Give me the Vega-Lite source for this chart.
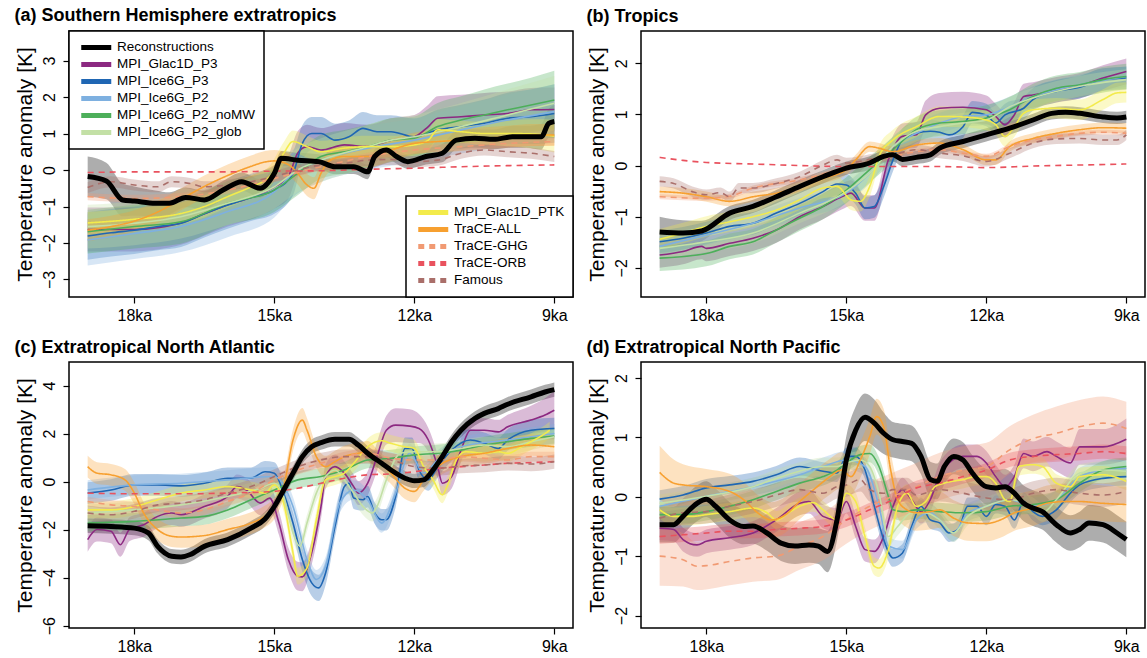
{
"$schema": "https://vega.github.io/schema/vega-lite/v6.json",
"padding": {"left": 13, "top": 6, "right": 1, "bottom": 2},
"config": {
  "font": "Liberation Sans",
  "view": {"stroke": "black", "strokeWidth": 1.5},
  "axis": {"domain": false, "grid": false, "tickColor": "black", "tickSize": 6, "tickWidth": 1.2, "labelColor": "black", "labelFontSize": 16, "titleFontSize": 21, "titleFontWeight": "normal", "titleColor": "black", "labelFont": "Liberation Sans", "titleFont": "Liberation Sans"},
  "axisX": {"labelPadding": 4},
  "axisY": {"labelAngle": 270, "labelAlign": "center", "labelBaseline": "bottom", "labelPadding": 5.5, "titlePadding": 6},
  "title": {"anchor": "start", "fontSize": 18, "fontWeight": "bold", "color": "black", "offset": 5, "font": "Liberation Sans"},
  "legend": {"strokeColor": "black", "strokeWidth": 1.5, "fillColor": "white", "padding": 8, "labelFontSize": 13.5, "labelColor": "black", "labelFont": "Liberation Sans", "rowPadding": 0, "clipHeight": 16.75, "labelLimit": 300}
},
"spacing": {"row": 14, "column": 10},
"columns": 2,
"resolve": {"legend": {"color": "independent", "stroke": "independent", "strokeDash": "independent", "fill": "independent", "opacity": "independent"}},
"datasets": {"d": [
{"p":"a","s":"REC","t":19,"y":-0.18,"e":0.55},{"p":"a","s":"REC","t":18.6,"y":-0.3,"e":0.5},{"p":"a","s":"REC","t":18.25,"y":-0.82,"e":0.45},{"p":"a","s":"REC","t":18,"y":-0.85,"e":0.4},{"p":"a","s":"REC","t":17.55,"y":-0.91,"e":0.35},{"p":"a","s":"REC","t":17.25,"y":-0.91,"e":0.3},{"p":"a","s":"REC","t":16.9,"y":-0.75,"e":0.27},{"p":"a","s":"REC","t":16.5,"y":-0.82,"e":0.25},{"p":"a","s":"REC","t":16.1,"y":-0.55,"e":0.25},{"p":"a","s":"REC","t":15.7,"y":-0.32,"e":0.25},{"p":"a","s":"REC","t":15.3,"y":-0.5,"e":0.25},{"p":"a","s":"REC","t":15,"y":-0.09,"e":0.22},{"p":"a","s":"REC","t":14.85,"y":0.32,"e":0.2},{"p":"a","s":"REC","t":14.5,"y":0.27,"e":0.2},{"p":"a","s":"REC","t":14.05,"y":0.23,"e":0.2},{"p":"a","s":"REC","t":13.7,"y":0.09,"e":0.2},{"p":"a","s":"REC","t":13.3,"y":0.09,"e":0.2},{"p":"a","s":"REC","t":13,"y":-0.05,"e":0.2},{"p":"a","s":"REC","t":12.85,"y":0.37,"e":0.2},{"p":"a","s":"REC","t":12.6,"y":0.55,"e":0.2},{"p":"a","s":"REC","t":12.38,"y":0.37,"e":0.2},{"p":"a","s":"REC","t":12.14,"y":0.23,"e":0.2},{"p":"a","s":"REC","t":11.75,"y":0.37,"e":0.22},{"p":"a","s":"REC","t":11.4,"y":0.46,"e":0.25},{"p":"a","s":"REC","t":11.1,"y":0.82,"e":0.25},{"p":"a","s":"REC","t":10.7,"y":0.87,"e":0.25},{"p":"a","s":"REC","t":10.3,"y":0.84,"e":0.27},{"p":"a","s":"REC","t":9.9,"y":0.91,"e":0.3},{"p":"a","s":"REC","t":9.6,"y":0.91,"e":0.3},{"p":"a","s":"REC","t":9.28,"y":0.91,"e":0.35},{"p":"a","s":"REC","t":9.12,"y":1.28,"e":0.4},{"p":"a","s":"REC","t":9,"y":1.33,"e":0.45},
{"p":"a","s":"G3","t":19,"y":-1.63,"e":0.6},{"p":"a","s":"G3","t":18.5,"y":-1.63,"e":0.6},{"p":"a","s":"G3","t":18,"y":-1.63,"e":0.6},{"p":"a","s":"G3","t":17.5,"y":-1.58,"e":0.6},{"p":"a","s":"G3","t":17,"y":-1.45,"e":0.6},{"p":"a","s":"G3","t":16.5,"y":-1.2,"e":0.6},{"p":"a","s":"G3","t":16,"y":-0.95,"e":0.6},{"p":"a","s":"G3","t":15.5,"y":-0.75,"e":0.6},{"p":"a","s":"G3","t":15,"y":-0.46,"e":0.6},{"p":"a","s":"G3","t":14.7,"y":-0.18,"e":0.6},{"p":"a","s":"G3","t":14.5,"y":0.46,"e":0.6},{"p":"a","s":"G3","t":14.3,"y":0.64,"e":0.6},{"p":"a","s":"G3","t":14,"y":0.55,"e":0.6},{"p":"a","s":"G3","t":13.5,"y":0.69,"e":0.6},{"p":"a","s":"G3","t":13,"y":0.64,"e":0.6},{"p":"a","s":"G3","t":12.5,"y":0.82,"e":0.6},{"p":"a","s":"G3","t":12,"y":0.91,"e":0.6},{"p":"a","s":"G3","t":11.7,"y":1.19,"e":0.6},{"p":"a","s":"G3","t":11.5,"y":1.42,"e":0.6},{"p":"a","s":"G3","t":11,"y":1.46,"e":0.6},{"p":"a","s":"G3","t":10.5,"y":1.51,"e":0.6},{"p":"a","s":"G3","t":10,"y":1.55,"e":0.6},{"p":"a","s":"G3","t":9.5,"y":1.65,"e":0.6},{"p":"a","s":"G3","t":9,"y":1.66,"e":0.6},
{"p":"a","s":"I3","t":19,"y":-1.81,"e":0.65},{"p":"a","s":"I3","t":18.5,"y":-1.72,"e":0.65},{"p":"a","s":"I3","t":18,"y":-1.65,"e":0.65},{"p":"a","s":"I3","t":17.5,"y":-1.55,"e":0.65},{"p":"a","s":"I3","t":17,"y":-1.46,"e":0.65},{"p":"a","s":"I3","t":16.5,"y":-1.2,"e":0.65},{"p":"a","s":"I3","t":16,"y":-0.96,"e":0.65},{"p":"a","s":"I3","t":15.5,"y":-0.75,"e":0.65},{"p":"a","s":"I3","t":15,"y":-0.55,"e":0.65},{"p":"a","s":"I3","t":14.6,"y":-0.09,"e":0.6},{"p":"a","s":"I3","t":14.4,"y":0.73,"e":0.5},{"p":"a","s":"I3","t":14.2,"y":1.0,"e":0.45},{"p":"a","s":"I3","t":14,"y":1.0,"e":0.45},{"p":"a","s":"I3","t":13.7,"y":0.82,"e":0.45},{"p":"a","s":"I3","t":13.4,"y":0.91,"e":0.45},{"p":"a","s":"I3","t":13.1,"y":1.14,"e":0.45},{"p":"a","s":"I3","t":12.8,"y":1.05,"e":0.45},{"p":"a","s":"I3","t":12.5,"y":1.05,"e":0.45},{"p":"a","s":"I3","t":12,"y":0.91,"e":0.5},{"p":"a","s":"I3","t":11.5,"y":1.1,"e":0.55},{"p":"a","s":"I3","t":11,"y":1.19,"e":0.6},{"p":"a","s":"I3","t":10.5,"y":1.28,"e":0.65},{"p":"a","s":"I3","t":10,"y":1.42,"e":0.7},{"p":"a","s":"I3","t":9.5,"y":1.46,"e":0.75},{"p":"a","s":"I3","t":9,"y":1.55,"e":0.8},
{"p":"a","s":"I2","t":19,"y":-1.92,"e":0.7},{"p":"a","s":"I2","t":18,"y":-1.74,"e":0.7},{"p":"a","s":"I2","t":17,"y":-1.55,"e":0.7},{"p":"a","s":"I2","t":16,"y":-1.14,"e":0.7},{"p":"a","s":"I2","t":15,"y":-0.6,"e":0.7},{"p":"a","s":"I2","t":14.6,"y":-0.09,"e":0.65},{"p":"a","s":"I2","t":14,"y":0.27,"e":0.6},{"p":"a","s":"I2","t":13,"y":0.6,"e":0.6},{"p":"a","s":"I2","t":12,"y":0.82,"e":0.6},{"p":"a","s":"I2","t":11,"y":1.1,"e":0.65},{"p":"a","s":"I2","t":10,"y":1.37,"e":0.7},{"p":"a","s":"I2","t":9,"y":1.6,"e":0.75},
{"p":"a","s":"NMW","t":19,"y":-1.69,"e":0.6},{"p":"a","s":"NMW","t":18,"y":-1.55,"e":0.6},{"p":"a","s":"NMW","t":17,"y":-1.42,"e":0.6},{"p":"a","s":"NMW","t":16,"y":-0.91,"e":0.6},{"p":"a","s":"NMW","t":15,"y":-0.55,"e":0.6},{"p":"a","s":"NMW","t":14.5,"y":-0.09,"e":0.6},{"p":"a","s":"NMW","t":14,"y":0.37,"e":0.6},{"p":"a","s":"NMW","t":13.5,"y":0.5,"e":0.6},{"p":"a","s":"NMW","t":13,"y":0.64,"e":0.6},{"p":"a","s":"NMW","t":12.5,"y":0.82,"e":0.6},{"p":"a","s":"NMW","t":12,"y":0.87,"e":0.6},{"p":"a","s":"NMW","t":11.5,"y":1.19,"e":0.65},{"p":"a","s":"NMW","t":11,"y":1.37,"e":0.65},{"p":"a","s":"NMW","t":10.5,"y":1.51,"e":0.7},{"p":"a","s":"NMW","t":10,"y":1.65,"e":0.72},{"p":"a","s":"NMW","t":9.5,"y":1.78,"e":0.75},{"p":"a","s":"NMW","t":9,"y":1.92,"e":0.8},
{"p":"a","s":"GLOB","t":19,"y":-1.55,"e":0.6},{"p":"a","s":"GLOB","t":18,"y":-1.46,"e":0.6},{"p":"a","s":"GLOB","t":17,"y":-1.28,"e":0.6},{"p":"a","s":"GLOB","t":16,"y":-0.91,"e":0.6},{"p":"a","s":"GLOB","t":15,"y":-0.46,"e":0.6},{"p":"a","s":"GLOB","t":14.5,"y":0,"e":0.6},{"p":"a","s":"GLOB","t":14,"y":0.27,"e":0.6},{"p":"a","s":"GLOB","t":13,"y":0.64,"e":0.6},{"p":"a","s":"GLOB","t":12.5,"y":0.82,"e":0.6},{"p":"a","s":"GLOB","t":12,"y":0.91,"e":0.6},{"p":"a","s":"GLOB","t":11,"y":1.19,"e":0.65},{"p":"a","s":"GLOB","t":10,"y":1.51,"e":0.7},{"p":"a","s":"GLOB","t":9,"y":1.83,"e":0.75},
{"p":"a","s":"PTK","t":19,"y":-1.45,"e":0.3},{"p":"a","s":"PTK","t":18,"y":-1.35,"e":0.3},{"p":"a","s":"PTK","t":17,"y":-1.19,"e":0.3},{"p":"a","s":"PTK","t":16.5,"y":-1.0,"e":0.3},{"p":"a","s":"PTK","t":16,"y":-0.73,"e":0.3},{"p":"a","s":"PTK","t":15.5,"y":-0.46,"e":0.3},{"p":"a","s":"PTK","t":15.1,"y":-0.18,"e":0.3},{"p":"a","s":"PTK","t":14.8,"y":0.46,"e":0.3},{"p":"a","s":"PTK","t":14.6,"y":0.78,"e":0.3},{"p":"a","s":"PTK","t":14.3,"y":0.64,"e":0.3},{"p":"a","s":"PTK","t":14,"y":0.5,"e":0.3},{"p":"a","s":"PTK","t":13.5,"y":0.6,"e":0.3},{"p":"a","s":"PTK","t":13,"y":0.64,"e":0.3},{"p":"a","s":"PTK","t":12.5,"y":0.64,"e":0.3},{"p":"a","s":"PTK","t":12,"y":0.69,"e":0.3},{"p":"a","s":"PTK","t":11.7,"y":0.82,"e":0.3},{"p":"a","s":"PTK","t":11.5,"y":1.1,"e":0.3},{"p":"a","s":"PTK","t":11,"y":1.05,"e":0.3},{"p":"a","s":"PTK","t":10.5,"y":1.0,"e":0.32},{"p":"a","s":"PTK","t":10,"y":1.0,"e":0.35},{"p":"a","s":"PTK","t":9.5,"y":0.99,"e":0.4},{"p":"a","s":"PTK","t":9,"y":0.93,"e":0.45},
{"p":"a","s":"TALL","t":19,"y":-1.65,"e":0.3},{"p":"a","s":"TALL","t":18.5,"y":-1.55,"e":0.3},{"p":"a","s":"TALL","t":18,"y":-1.4,"e":0.3},{"p":"a","s":"TALL","t":17.5,"y":-1.15,"e":0.3},{"p":"a","s":"TALL","t":17,"y":-0.8,"e":0.3},{"p":"a","s":"TALL","t":16.5,"y":-0.45,"e":0.3},{"p":"a","s":"TALL","t":16,"y":-0.15,"e":0.3},{"p":"a","s":"TALL","t":15.5,"y":0.1,"e":0.3},{"p":"a","s":"TALL","t":15.2,"y":0.22,"e":0.3},{"p":"a","s":"TALL","t":15,"y":0.25,"e":0.3},{"p":"a","s":"TALL","t":14.7,"y":0.15,"e":0.3},{"p":"a","s":"TALL","t":14.5,"y":-0.09,"e":0.3},{"p":"a","s":"TALL","t":14.3,"y":-0.41,"e":0.3},{"p":"a","s":"TALL","t":14.15,"y":-0.5,"e":0.3},{"p":"a","s":"TALL","t":14,"y":-0.09,"e":0.3},{"p":"a","s":"TALL","t":13.8,"y":0.27,"e":0.3},{"p":"a","s":"TALL","t":13.5,"y":0.37,"e":0.3},{"p":"a","s":"TALL","t":13,"y":0.37,"e":0.3},{"p":"a","s":"TALL","t":12.5,"y":0.55,"e":0.3},{"p":"a","s":"TALL","t":12,"y":0.73,"e":0.3},{"p":"a","s":"TALL","t":11.5,"y":0.78,"e":0.3},{"p":"a","s":"TALL","t":11,"y":0.82,"e":0.3},{"p":"a","s":"TALL","t":10.5,"y":0.87,"e":0.3},{"p":"a","s":"TALL","t":10,"y":0.91,"e":0.3},{"p":"a","s":"TALL","t":9.5,"y":0.96,"e":0.3},{"p":"a","s":"TALL","t":9,"y":0.96,"e":0.3},
{"p":"a","s":"TGHG","t":19,"y":-0.73,"e":0.1},{"p":"a","s":"TGHG","t":18,"y":-0.78,"e":0.1},{"p":"a","s":"TGHG","t":17,"y":-0.73,"e":0.1},{"p":"a","s":"TGHG","t":16,"y":-0.55,"e":0.1},{"p":"a","s":"TGHG","t":15,"y":-0.23,"e":0.1},{"p":"a","s":"TGHG","t":14,"y":0.09,"e":0.1},{"p":"a","s":"TGHG","t":13,"y":0.37,"e":0.1},{"p":"a","s":"TGHG","t":12,"y":0.55,"e":0.1},{"p":"a","s":"TGHG","t":11,"y":0.64,"e":0.1},{"p":"a","s":"TGHG","t":10,"y":0.73,"e":0.1},{"p":"a","s":"TGHG","t":9,"y":0.78,"e":0.1},
{"p":"a","s":"TORB","t":19,"y":-0.07},{"p":"a","s":"TORB","t":18,"y":-0.05},{"p":"a","s":"TORB","t":17,"y":-0.05},{"p":"a","s":"TORB","t":16,"y":-0.05},{"p":"a","s":"TORB","t":15,"y":-0.03},{"p":"a","s":"TORB","t":14,"y":-0.02},{"p":"a","s":"TORB","t":13,"y":0.02},{"p":"a","s":"TORB","t":12,"y":0.05},{"p":"a","s":"TORB","t":11,"y":0.09},{"p":"a","s":"TORB","t":10,"y":0.12},{"p":"a","s":"TORB","t":9,"y":0.14},
{"p":"a","s":"FAM","t":19,"y":-0.48,"e":0.15},{"p":"a","s":"FAM","t":18.5,"y":-0.32,"e":0.15},{"p":"a","s":"FAM","t":18,"y":-0.41,"e":0.15},{"p":"a","s":"FAM","t":17.5,"y":-0.46,"e":0.15},{"p":"a","s":"FAM","t":17.2,"y":-0.32,"e":0.15},{"p":"a","s":"FAM","t":16.8,"y":-0.37,"e":0.15},{"p":"a","s":"FAM","t":16.5,"y":-0.46,"e":0.15},{"p":"a","s":"FAM","t":16,"y":-0.41,"e":0.15},{"p":"a","s":"FAM","t":15.5,"y":-0.32,"e":0.15},{"p":"a","s":"FAM","t":15,"y":-0.18,"e":0.15},{"p":"a","s":"FAM","t":14.5,"y":0,"e":0.15},{"p":"a","s":"FAM","t":14,"y":0.14,"e":0.15},{"p":"a","s":"FAM","t":13.5,"y":0.18,"e":0.15},{"p":"a","s":"FAM","t":13,"y":0.27,"e":0.15},{"p":"a","s":"FAM","t":12.5,"y":0.29,"e":0.15},{"p":"a","s":"FAM","t":12,"y":0.23,"e":0.15},{"p":"a","s":"FAM","t":11.5,"y":0.27,"e":0.15},{"p":"a","s":"FAM","t":11,"y":0.46,"e":0.15},{"p":"a","s":"FAM","t":10.5,"y":0.55,"e":0.15},{"p":"a","s":"FAM","t":10,"y":0.5,"e":0.15},{"p":"a","s":"FAM","t":9.5,"y":0.46,"e":0.15},{"p":"a","s":"FAM","t":9,"y":0.37,"e":0.15},

{"p":"b","s":"REC","t":19,"y":-1.3,"e":0.3},{"p":"b","s":"REC","t":18.5,"y":-1.32,"e":0.25},{"p":"b","s":"REC","t":18.1,"y":-1.28,"e":0.2},{"p":"b","s":"REC","t":17.5,"y":-0.93,"e":0.14},{"p":"b","s":"REC","t":17,"y":-0.8,"e":0.13},{"p":"b","s":"REC","t":16.5,"y":-0.61,"e":0.13},{"p":"b","s":"REC","t":16,"y":-0.41,"e":0.13},{"p":"b","s":"REC","t":15.5,"y":-0.22,"e":0.13},{"p":"b","s":"REC","t":15,"y":-0.05,"e":0.13},{"p":"b","s":"REC","t":14.5,"y":0.05,"e":0.13},{"p":"b","s":"REC","t":14.2,"y":0.18,"e":0.13},{"p":"b","s":"REC","t":14,"y":0.21,"e":0.13},{"p":"b","s":"REC","t":13.8,"y":0.12,"e":0.13},{"p":"b","s":"REC","t":13.5,"y":0.16,"e":0.13},{"p":"b","s":"REC","t":13.2,"y":0.21,"e":0.13},{"p":"b","s":"REC","t":13,"y":0.34,"e":0.13},{"p":"b","s":"REC","t":12.5,"y":0.47,"e":0.13},{"p":"b","s":"REC","t":12,"y":0.6,"e":0.13},{"p":"b","s":"REC","t":11.5,"y":0.73,"e":0.13},{"p":"b","s":"REC","t":11,"y":0.89,"e":0.12},{"p":"b","s":"REC","t":10.6,"y":1.02,"e":0.12},{"p":"b","s":"REC","t":10.3,"y":1.04,"e":0.12},{"p":"b","s":"REC","t":10,"y":1.02,"e":0.12},{"p":"b","s":"REC","t":9.5,"y":0.95,"e":0.12},{"p":"b","s":"REC","t":9.2,"y":0.93,"e":0.12},{"p":"b","s":"REC","t":9,"y":0.95,"e":0.12},
{"p":"b","s":"G3","t":19,"y":-1.75,"e":0.25},{"p":"b","s":"G3","t":18.5,"y":-1.68,"e":0.25},{"p":"b","s":"G3","t":18.1,"y":-1.58,"e":0.25},{"p":"b","s":"G3","t":18,"y":-1.62,"e":0.25},{"p":"b","s":"G3","t":17.5,"y":-1.52,"e":0.25},{"p":"b","s":"G3","t":17,"y":-1.42,"e":0.25},{"p":"b","s":"G3","t":16.5,"y":-1.26,"e":0.25},{"p":"b","s":"G3","t":16,"y":-1.0,"e":0.25},{"p":"b","s":"G3","t":15.5,"y":-0.8,"e":0.25},{"p":"b","s":"G3","t":15.1,"y":-0.61,"e":0.25},{"p":"b","s":"G3","t":14.9,"y":-0.54,"e":0.25},{"p":"b","s":"G3","t":14.6,"y":-0.83,"e":0.25},{"p":"b","s":"G3","t":14.4,"y":-0.83,"e":0.25},{"p":"b","s":"G3","t":14.1,"y":0.11,"e":0.25},{"p":"b","s":"G3","t":13.8,"y":0.57,"e":0.25},{"p":"b","s":"G3","t":13.5,"y":0.6,"e":0.25},{"p":"b","s":"G3","t":13.3,"y":0.99,"e":0.28},{"p":"b","s":"G3","t":13,"y":1.12,"e":0.3},{"p":"b","s":"G3","t":12.5,"y":1.14,"e":0.3},{"p":"b","s":"G3","t":12,"y":1.09,"e":0.28},{"p":"b","s":"G3","t":11.8,"y":0.96,"e":0.25},{"p":"b","s":"G3","t":11.6,"y":0.8,"e":0.25},{"p":"b","s":"G3","t":11.4,"y":0.99,"e":0.25},{"p":"b","s":"G3","t":11.2,"y":1.35,"e":0.25},{"p":"b","s":"G3","t":11,"y":1.38,"e":0.25},{"p":"b","s":"G3","t":10.5,"y":1.48,"e":0.25},{"p":"b","s":"G3","t":10,"y":1.56,"e":0.25},{"p":"b","s":"G3","t":9.5,"y":1.71,"e":0.25},{"p":"b","s":"G3","t":9,"y":1.84,"e":0.25},
{"p":"b","s":"I3","t":19,"y":-1.49,"e":0.22},{"p":"b","s":"I3","t":18.5,"y":-1.42,"e":0.22},{"p":"b","s":"I3","t":18,"y":-1.32,"e":0.22},{"p":"b","s":"I3","t":17.5,"y":-1.19,"e":0.22},{"p":"b","s":"I3","t":17,"y":-1.13,"e":0.22},{"p":"b","s":"I3","t":16.5,"y":-0.93,"e":0.22},{"p":"b","s":"I3","t":16,"y":-0.74,"e":0.22},{"p":"b","s":"I3","t":15.5,"y":-0.51,"e":0.22},{"p":"b","s":"I3","t":15.2,"y":-0.36,"e":0.22},{"p":"b","s":"I3","t":15,"y":-0.38,"e":0.22},{"p":"b","s":"I3","t":14.8,"y":-0.54,"e":0.22},{"p":"b","s":"I3","t":14.6,"y":-0.83,"e":0.22},{"p":"b","s":"I3","t":14.4,"y":-0.8,"e":0.22},{"p":"b","s":"I3","t":14.2,"y":-0.41,"e":0.22},{"p":"b","s":"I3","t":14,"y":0.11,"e":0.22},{"p":"b","s":"I3","t":13.8,"y":0.5,"e":0.22},{"p":"b","s":"I3","t":13.5,"y":0.63,"e":0.22},{"p":"b","s":"I3","t":13.2,"y":0.67,"e":0.22},{"p":"b","s":"I3","t":13,"y":0.65,"e":0.22},{"p":"b","s":"I3","t":12.8,"y":0.6,"e":0.22},{"p":"b","s":"I3","t":12.5,"y":0.76,"e":0.22},{"p":"b","s":"I3","t":12.3,"y":1.04,"e":0.22},{"p":"b","s":"I3","t":12,"y":0.99,"e":0.22},{"p":"b","s":"I3","t":11.8,"y":0.83,"e":0.22},{"p":"b","s":"I3","t":11.6,"y":0.99,"e":0.22},{"p":"b","s":"I3","t":11.2,"y":1.12,"e":0.22},{"p":"b","s":"I3","t":11,"y":1.29,"e":0.22},{"p":"b","s":"I3","t":10.5,"y":1.45,"e":0.22},{"p":"b","s":"I3","t":10,"y":1.53,"e":0.22},{"p":"b","s":"I3","t":9.5,"y":1.68,"e":0.22},{"p":"b","s":"I3","t":9,"y":1.71,"e":0.22},
{"p":"b","s":"I2","t":19,"y":-1.58,"e":0.2},{"p":"b","s":"I2","t":18,"y":-1.36,"e":0.2},{"p":"b","s":"I2","t":17,"y":-1.13,"e":0.2},{"p":"b","s":"I2","t":16,"y":-0.83,"e":0.2},{"p":"b","s":"I2","t":15,"y":-0.54,"e":0.2},{"p":"b","s":"I2","t":14.5,"y":-0.15,"e":0.2},{"p":"b","s":"I2","t":14,"y":0.37,"e":0.2},{"p":"b","s":"I2","t":13.5,"y":0.63,"e":0.2},{"p":"b","s":"I2","t":13,"y":0.83,"e":0.2},{"p":"b","s":"I2","t":12.5,"y":0.96,"e":0.2},{"p":"b","s":"I2","t":12,"y":0.99,"e":0.2},{"p":"b","s":"I2","t":11.5,"y":1.15,"e":0.2},{"p":"b","s":"I2","t":11,"y":1.35,"e":0.2},{"p":"b","s":"I2","t":10,"y":1.58,"e":0.2},{"p":"b","s":"I2","t":9,"y":1.74,"e":0.2},
{"p":"b","s":"NMW","t":19,"y":-1.81,"e":0.25},{"p":"b","s":"NMW","t":18,"y":-1.72,"e":0.25},{"p":"b","s":"NMW","t":17.5,"y":-1.58,"e":0.25},{"p":"b","s":"NMW","t":17,"y":-1.49,"e":0.25},{"p":"b","s":"NMW","t":16.5,"y":-1.26,"e":0.25},{"p":"b","s":"NMW","t":16,"y":-1.03,"e":0.25},{"p":"b","s":"NMW","t":15.5,"y":-0.8,"e":0.25},{"p":"b","s":"NMW","t":15,"y":-0.48,"e":0.25},{"p":"b","s":"NMW","t":14.5,"y":-0.08,"e":0.25},{"p":"b","s":"NMW","t":14,"y":0.31,"e":0.25},{"p":"b","s":"NMW","t":13.5,"y":0.7,"e":0.25},{"p":"b","s":"NMW","t":13,"y":0.83,"e":0.25},{"p":"b","s":"NMW","t":12.5,"y":0.86,"e":0.25},{"p":"b","s":"NMW","t":12,"y":0.93,"e":0.25},{"p":"b","s":"NMW","t":11.5,"y":1.09,"e":0.25},{"p":"b","s":"NMW","t":11,"y":1.35,"e":0.25},{"p":"b","s":"NMW","t":10.5,"y":1.51,"e":0.25},{"p":"b","s":"NMW","t":10,"y":1.58,"e":0.25},{"p":"b","s":"NMW","t":9.5,"y":1.68,"e":0.25},{"p":"b","s":"NMW","t":9,"y":1.74,"e":0.25},
{"p":"b","s":"GLOB","t":19,"y":-1.62,"e":0.2},{"p":"b","s":"GLOB","t":18,"y":-1.49,"e":0.2},{"p":"b","s":"GLOB","t":17,"y":-1.32,"e":0.2},{"p":"b","s":"GLOB","t":16,"y":-0.93,"e":0.2},{"p":"b","s":"GLOB","t":15,"y":-0.51,"e":0.2},{"p":"b","s":"GLOB","t":14.5,"y":-0.15,"e":0.2},{"p":"b","s":"GLOB","t":14,"y":0.37,"e":0.2},{"p":"b","s":"GLOB","t":13.5,"y":0.67,"e":0.2},{"p":"b","s":"GLOB","t":13,"y":0.76,"e":0.2},{"p":"b","s":"GLOB","t":12.5,"y":0.83,"e":0.2},{"p":"b","s":"GLOB","t":12,"y":0.89,"e":0.2},{"p":"b","s":"GLOB","t":11.5,"y":1.15,"e":0.2},{"p":"b","s":"GLOB","t":11,"y":1.32,"e":0.2},{"p":"b","s":"GLOB","t":10,"y":1.55,"e":0.2},{"p":"b","s":"GLOB","t":9,"y":1.68,"e":0.2},
{"p":"b","s":"PTK","t":19,"y":-1.44,"e":0.2},{"p":"b","s":"PTK","t":18.5,"y":-1.32,"e":0.2},{"p":"b","s":"PTK","t":18,"y":-1.19,"e":0.2},{"p":"b","s":"PTK","t":17.5,"y":-1.1,"e":0.2},{"p":"b","s":"PTK","t":17,"y":-1.0,"e":0.2},{"p":"b","s":"PTK","t":16.5,"y":-0.87,"e":0.2},{"p":"b","s":"PTK","t":16,"y":-0.67,"e":0.2},{"p":"b","s":"PTK","t":15.5,"y":-0.44,"e":0.2},{"p":"b","s":"PTK","t":15.2,"y":-0.41,"e":0.2},{"p":"b","s":"PTK","t":14.9,"y":-0.67,"e":0.2},{"p":"b","s":"PTK","t":14.7,"y":-0.7,"e":0.2},{"p":"b","s":"PTK","t":14.5,"y":-0.41,"e":0.2},{"p":"b","s":"PTK","t":14.3,"y":0.18,"e":0.2},{"p":"b","s":"PTK","t":14,"y":0.5,"e":0.2},{"p":"b","s":"PTK","t":13.5,"y":0.76,"e":0.2},{"p":"b","s":"PTK","t":13,"y":0.96,"e":0.2},{"p":"b","s":"PTK","t":12.5,"y":0.95,"e":0.2},{"p":"b","s":"PTK","t":12,"y":0.89,"e":0.2},{"p":"b","s":"PTK","t":11.8,"y":0.8,"e":0.2},{"p":"b","s":"PTK","t":11.6,"y":0.57,"e":0.2},{"p":"b","s":"PTK","t":11.4,"y":0.76,"e":0.2},{"p":"b","s":"PTK","t":11.2,"y":1.02,"e":0.2},{"p":"b","s":"PTK","t":11,"y":1.09,"e":0.2},{"p":"b","s":"PTK","t":10.5,"y":1.12,"e":0.2},{"p":"b","s":"PTK","t":10,"y":1.09,"e":0.2},{"p":"b","s":"PTK","t":9.5,"y":1.29,"e":0.2},{"p":"b","s":"PTK","t":9.2,"y":1.42,"e":0.2},{"p":"b","s":"PTK","t":9,"y":1.43,"e":0.2},
{"p":"b","s":"TALL","t":19,"y":-0.51,"e":0.1},{"p":"b","s":"TALL","t":18.5,"y":-0.54,"e":0.1},{"p":"b","s":"TALL","t":18,"y":-0.61,"e":0.1},{"p":"b","s":"TALL","t":17.5,"y":-0.7,"e":0.1},{"p":"b","s":"TALL","t":17,"y":-0.61,"e":0.1},{"p":"b","s":"TALL","t":16.5,"y":-0.54,"e":0.1},{"p":"b","s":"TALL","t":16,"y":-0.41,"e":0.1},{"p":"b","s":"TALL","t":15.5,"y":-0.25,"e":0.1},{"p":"b","s":"TALL","t":15,"y":-0.08,"e":0.1},{"p":"b","s":"TALL","t":14.8,"y":0.11,"e":0.1},{"p":"b","s":"TALL","t":14.5,"y":0.37,"e":0.1},{"p":"b","s":"TALL","t":14.3,"y":0.34,"e":0.1},{"p":"b","s":"TALL","t":14,"y":0.27,"e":0.1},{"p":"b","s":"TALL","t":13.5,"y":0.4,"e":0.1},{"p":"b","s":"TALL","t":13,"y":0.44,"e":0.1},{"p":"b","s":"TALL","t":12.5,"y":0.31,"e":0.1},{"p":"b","s":"TALL","t":12,"y":0.11,"e":0.1},{"p":"b","s":"TALL","t":11.8,"y":0.11,"e":0.1},{"p":"b","s":"TALL","t":11.5,"y":0.37,"e":0.1},{"p":"b","s":"TALL","t":11,"y":0.53,"e":0.1},{"p":"b","s":"TALL","t":10.5,"y":0.63,"e":0.1},{"p":"b","s":"TALL","t":10,"y":0.7,"e":0.1},{"p":"b","s":"TALL","t":9.5,"y":0.74,"e":0.1},{"p":"b","s":"TALL","t":9,"y":0.73,"e":0.1},
{"p":"b","s":"TGHG","t":19,"y":-0.61,"e":0.05},{"p":"b","s":"TGHG","t":18,"y":-0.64,"e":0.05},{"p":"b","s":"TGHG","t":17.5,"y":-0.6,"e":0.05},{"p":"b","s":"TGHG","t":17,"y":-0.44,"e":0.05},{"p":"b","s":"TGHG","t":16,"y":-0.28,"e":0.05},{"p":"b","s":"TGHG","t":15,"y":-0.05,"e":0.05},{"p":"b","s":"TGHG","t":14.5,"y":0.08,"e":0.05},{"p":"b","s":"TGHG","t":14,"y":0.18,"e":0.05},{"p":"b","s":"TGHG","t":13.5,"y":0.27,"e":0.05},{"p":"b","s":"TGHG","t":13,"y":0.31,"e":0.05},{"p":"b","s":"TGHG","t":12.5,"y":0.24,"e":0.05},{"p":"b","s":"TGHG","t":12,"y":0.18,"e":0.05},{"p":"b","s":"TGHG","t":11.5,"y":0.37,"e":0.05},{"p":"b","s":"TGHG","t":11,"y":0.5,"e":0.05},{"p":"b","s":"TGHG","t":10.5,"y":0.57,"e":0.05},{"p":"b","s":"TGHG","t":10,"y":0.63,"e":0.05},{"p":"b","s":"TGHG","t":9.5,"y":0.65,"e":0.05},{"p":"b","s":"TGHG","t":9,"y":0.63,"e":0.05},
{"p":"b","s":"TORB","t":19,"y":0.16},{"p":"b","s":"TORB","t":18.5,"y":0.1},{"p":"b","s":"TORB","t":18,"y":0.06},{"p":"b","s":"TORB","t":17,"y":0.03},{"p":"b","s":"TORB","t":16,"y":0},{"p":"b","s":"TORB","t":15,"y":-0.02},{"p":"b","s":"TORB","t":14,"y":-0.02},{"p":"b","s":"TORB","t":13,"y":-0.02},{"p":"b","s":"TORB","t":12,"y":-0.04},{"p":"b","s":"TORB","t":11,"y":-0.01},{"p":"b","s":"TORB","t":10,"y":0.01},{"p":"b","s":"TORB","t":9,"y":0.03},
{"p":"b","s":"FAM","t":19,"y":-0.31,"e":0.1},{"p":"b","s":"FAM","t":18.7,"y":-0.35,"e":0.1},{"p":"b","s":"FAM","t":18.3,"y":-0.51,"e":0.1},{"p":"b","s":"FAM","t":18,"y":-0.57,"e":0.1},{"p":"b","s":"FAM","t":17.7,"y":-0.53,"e":0.1},{"p":"b","s":"FAM","t":17.5,"y":-0.61,"e":0.1},{"p":"b","s":"FAM","t":17.3,"y":-0.44,"e":0.1},{"p":"b","s":"FAM","t":17,"y":-0.44,"e":0.1},{"p":"b","s":"FAM","t":16.5,"y":-0.35,"e":0.1},{"p":"b","s":"FAM","t":16,"y":-0.22,"e":0.1},{"p":"b","s":"FAM","t":15.5,"y":0.01,"e":0.1},{"p":"b","s":"FAM","t":15.2,"y":0.11,"e":0.1},{"p":"b","s":"FAM","t":15,"y":0.05,"e":0.1},{"p":"b","s":"FAM","t":14.5,"y":0.12,"e":0.1},{"p":"b","s":"FAM","t":14,"y":0.21,"e":0.1},{"p":"b","s":"FAM","t":13.5,"y":0.31,"e":0.1},{"p":"b","s":"FAM","t":13,"y":0.24,"e":0.1},{"p":"b","s":"FAM","t":12.5,"y":0.19,"e":0.1},{"p":"b","s":"FAM","t":12,"y":0.08,"e":0.1},{"p":"b","s":"FAM","t":11.5,"y":0.24,"e":0.1},{"p":"b","s":"FAM","t":11,"y":0.44,"e":0.1},{"p":"b","s":"FAM","t":10.5,"y":0.52,"e":0.1},{"p":"b","s":"FAM","t":10,"y":0.53,"e":0.1},{"p":"b","s":"FAM","t":9.5,"y":0.5,"e":0.1},{"p":"b","s":"FAM","t":9.2,"y":0.5,"e":0.1},{"p":"b","s":"FAM","t":9,"y":0.6,"e":0.1},

{"p":"c","s":"REC","t":19,"y":-1.84,"e":0.3},{"p":"c","s":"REC","t":18.5,"y":-1.87,"e":0.3},{"p":"c","s":"REC","t":18,"y":-1.94,"e":0.3},{"p":"c","s":"REC","t":17.7,"y":-2.14,"e":0.3},{"p":"c","s":"REC","t":17.5,"y":-2.7,"e":0.3},{"p":"c","s":"REC","t":17.2,"y":-3.11,"e":0.3},{"p":"c","s":"REC","t":17,"y":-3.14,"e":0.3},{"p":"c","s":"REC","t":16.8,"y":-3.04,"e":0.3},{"p":"c","s":"REC","t":16.5,"y":-2.7,"e":0.3},{"p":"c","s":"REC","t":16,"y":-2.42,"e":0.3},{"p":"c","s":"REC","t":15.5,"y":-1.94,"e":0.3},{"p":"c","s":"REC","t":15.2,"y":-1.56,"e":0.3},{"p":"c","s":"REC","t":15,"y":-1.04,"e":0.3},{"p":"c","s":"REC","t":14.8,"y":-0.35,"e":0.3},{"p":"c","s":"REC","t":14.6,"y":0.35,"e":0.3},{"p":"c","s":"REC","t":14.4,"y":1.04,"e":0.3},{"p":"c","s":"REC","t":14.2,"y":1.45,"e":0.3},{"p":"c","s":"REC","t":14,"y":1.62,"e":0.3},{"p":"c","s":"REC","t":13.7,"y":1.76,"e":0.3},{"p":"c","s":"REC","t":13.4,"y":1.76,"e":0.3},{"p":"c","s":"REC","t":13.2,"y":1.52,"e":0.3},{"p":"c","s":"REC","t":13,"y":1.18,"e":0.3},{"p":"c","s":"REC","t":12.7,"y":0.76,"e":0.3},{"p":"c","s":"REC","t":12.5,"y":0.48,"e":0.3},{"p":"c","s":"REC","t":12.2,"y":0.14,"e":0.3},{"p":"c","s":"REC","t":12,"y":0.03,"e":0.3},{"p":"c","s":"REC","t":11.8,"y":0.07,"e":0.3},{"p":"c","s":"REC","t":11.6,"y":0.48,"e":0.3},{"p":"c","s":"REC","t":11.4,"y":1.04,"e":0.3},{"p":"c","s":"REC","t":11.2,"y":1.66,"e":0.3},{"p":"c","s":"REC","t":11,"y":2.14,"e":0.3},{"p":"c","s":"REC","t":10.7,"y":2.63,"e":0.3},{"p":"c","s":"REC","t":10.5,"y":2.84,"e":0.3},{"p":"c","s":"REC","t":10.2,"y":3.04,"e":0.3},{"p":"c","s":"REC","t":10,"y":3.22,"e":0.3},{"p":"c","s":"REC","t":9.5,"y":3.53,"e":0.3},{"p":"c","s":"REC","t":9.2,"y":3.73,"e":0.3},{"p":"c","s":"REC","t":9,"y":3.83,"e":0.3},
{"p":"c","s":"G3","t":19,"y":-2.42,"e":0.5},{"p":"c","s":"G3","t":18.8,"y":-2.0,"e":0.5},{"p":"c","s":"G3","t":18.5,"y":-2.07,"e":0.5},{"p":"c","s":"G3","t":18.3,"y":-2.63,"e":0.5},{"p":"c","s":"G3","t":18.1,"y":-1.98,"e":0.5},{"p":"c","s":"G3","t":17.8,"y":-1.8,"e":0.5},{"p":"c","s":"G3","t":17.5,"y":-1.45,"e":0.5},{"p":"c","s":"G3","t":17.2,"y":-1.31,"e":0.5},{"p":"c","s":"G3","t":17,"y":-1.38,"e":0.5},{"p":"c","s":"G3","t":16.5,"y":-1.04,"e":0.5},{"p":"c","s":"G3","t":16,"y":-0.62,"e":0.5},{"p":"c","s":"G3","t":15.8,"y":-0.21,"e":0.5},{"p":"c","s":"G3","t":15.6,"y":-0.35,"e":0.5},{"p":"c","s":"G3","t":15.3,"y":-0.9,"e":0.5},{"p":"c","s":"G3","t":15.1,"y":-0.69,"e":0.5},{"p":"c","s":"G3","t":14.9,"y":-1.73,"e":0.5},{"p":"c","s":"G3","t":14.7,"y":-3.25,"e":0.5},{"p":"c","s":"G3","t":14.5,"y":-3.94,"e":0.6},{"p":"c","s":"G3","t":14.4,"y":-3.97,"e":0.6},{"p":"c","s":"G3","t":14.2,"y":-2.97,"e":0.5},{"p":"c","s":"G3","t":14,"y":-1.04,"e":0.5},{"p":"c","s":"G3","t":13.9,"y":0.21,"e":0.5},{"p":"c","s":"G3","t":13.7,"y":0.62,"e":0.5},{"p":"c","s":"G3","t":13.5,"y":0.35,"e":0.5},{"p":"c","s":"G3","t":13.3,"y":-0.21,"e":0.5},{"p":"c","s":"G3","t":13.2,"y":-0.48,"e":0.5},{"p":"c","s":"G3","t":13,"y":-0.07,"e":0.5},{"p":"c","s":"G3","t":12.8,"y":1.04,"e":0.6},{"p":"c","s":"G3","t":12.6,"y":2.14,"e":0.6},{"p":"c","s":"G3","t":12.4,"y":2.35,"e":0.7},{"p":"c","s":"G3","t":12.1,"y":2.31,"e":0.7},{"p":"c","s":"G3","t":11.9,"y":2.21,"e":0.6},{"p":"c","s":"G3","t":11.7,"y":1.73,"e":0.5},{"p":"c","s":"G3","t":11.5,"y":0.62,"e":0.5},{"p":"c","s":"G3","t":11.4,"y":-0.07,"e":0.5},{"p":"c","s":"G3","t":11.2,"y":0.21,"e":0.5},{"p":"c","s":"G3","t":11,"y":1.31,"e":0.5},{"p":"c","s":"G3","t":10.8,"y":2.14,"e":0.5},{"p":"c","s":"G3","t":10.5,"y":2.14,"e":0.5},{"p":"c","s":"G3","t":10.2,"y":2.07,"e":0.5},{"p":"c","s":"G3","t":10,"y":2.28,"e":0.5},{"p":"c","s":"G3","t":9.5,"y":2.56,"e":0.6},{"p":"c","s":"G3","t":9.2,"y":2.77,"e":0.7},{"p":"c","s":"G3","t":9,"y":2.97,"e":0.8},
{"p":"c","s":"I3","t":19,"y":-0.48,"e":0.45},{"p":"c","s":"I3","t":18.5,"y":-0.35,"e":0.45},{"p":"c","s":"I3","t":18,"y":-0.14,"e":0.45},{"p":"c","s":"I3","t":17.5,"y":-0.14,"e":0.45},{"p":"c","s":"I3","t":17,"y":-0.18,"e":0.45},{"p":"c","s":"I3","t":16.5,"y":-0.07,"e":0.45},{"p":"c","s":"I3","t":16,"y":0.14,"e":0.45},{"p":"c","s":"I3","t":15.5,"y":0.14,"e":0.45},{"p":"c","s":"I3","t":15.2,"y":0.41,"e":0.45},{"p":"c","s":"I3","t":15,"y":0.35,"e":0.45},{"p":"c","s":"I3","t":14.8,"y":-0.48,"e":0.45},{"p":"c","s":"I3","t":14.6,"y":-1.73,"e":0.45},{"p":"c","s":"I3","t":14.4,"y":-3.25,"e":0.5},{"p":"c","s":"I3","t":14.2,"y":-4.22,"e":0.55},{"p":"c","s":"I3","t":14.05,"y":-4.43,"e":0.55},{"p":"c","s":"I3","t":13.9,"y":-3.8,"e":0.5},{"p":"c","s":"I3","t":13.7,"y":-1.87,"e":0.45},{"p":"c","s":"I3","t":13.5,"y":-0.21,"e":0.45},{"p":"c","s":"I3","t":13.4,"y":-0.07,"e":0.45},{"p":"c","s":"I3","t":13.3,"y":-0.69,"e":0.45},{"p":"c","s":"I3","t":13.1,"y":-0.76,"e":0.45},{"p":"c","s":"I3","t":13,"y":-0.62,"e":0.45},{"p":"c","s":"I3","t":12.85,"y":-1.31,"e":0.45},{"p":"c","s":"I3","t":12.7,"y":-1.59,"e":0.45},{"p":"c","s":"I3","t":12.6,"y":-1.59,"e":0.45},{"p":"c","s":"I3","t":12.4,"y":-0.62,"e":0.45},{"p":"c","s":"I3","t":12.2,"y":1.38,"e":0.45},{"p":"c","s":"I3","t":12.05,"y":1.38,"e":0.45},{"p":"c","s":"I3","t":11.9,"y":0.48,"e":0.45},{"p":"c","s":"I3","t":11.7,"y":0.07,"e":0.45},{"p":"c","s":"I3","t":11.5,"y":0.62,"e":0.45},{"p":"c","s":"I3","t":11.2,"y":1.31,"e":0.45},{"p":"c","s":"I3","t":10.8,"y":1.73,"e":0.45},{"p":"c","s":"I3","t":10.5,"y":1.59,"e":0.45},{"p":"c","s":"I3","t":10.2,"y":1.38,"e":0.45},{"p":"c","s":"I3","t":10,"y":1.73,"e":0.45},{"p":"c","s":"I3","t":9.5,"y":2.14,"e":0.45},{"p":"c","s":"I3","t":9,"y":2.21,"e":0.45},
{"p":"c","s":"I2","t":19,"y":-0.35,"e":0.4},{"p":"c","s":"I2","t":18,"y":-0.14,"e":0.4},{"p":"c","s":"I2","t":17,"y":-0.07,"e":0.4},{"p":"c","s":"I2","t":16,"y":0.07,"e":0.4},{"p":"c","s":"I2","t":15,"y":0.21,"e":0.4},{"p":"c","s":"I2","t":14.6,"y":-1.04,"e":0.4},{"p":"c","s":"I2","t":14.3,"y":-3.25,"e":0.4},{"p":"c","s":"I2","t":14.1,"y":-4.08,"e":0.4},{"p":"c","s":"I2","t":13.9,"y":-3.53,"e":0.4},{"p":"c","s":"I2","t":13.6,"y":-0.9,"e":0.4},{"p":"c","s":"I2","t":13.3,"y":-0.35,"e":0.4},{"p":"c","s":"I2","t":13,"y":-0.76,"e":0.4},{"p":"c","s":"I2","t":12.7,"y":-1.73,"e":0.4},{"p":"c","s":"I2","t":12.4,"y":-0.48,"e":0.4},{"p":"c","s":"I2","t":12.1,"y":1.18,"e":0.4},{"p":"c","s":"I2","t":11.8,"y":0.35,"e":0.4},{"p":"c","s":"I2","t":11.5,"y":0.9,"e":0.4},{"p":"c","s":"I2","t":11,"y":1.45,"e":0.4},{"p":"c","s":"I2","t":10,"y":1.73,"e":0.4},{"p":"c","s":"I2","t":9,"y":2.0,"e":0.4},
{"p":"c","s":"NMW","t":19,"y":-1.73,"e":0.35},{"p":"c","s":"NMW","t":18,"y":-1.66,"e":0.35},{"p":"c","s":"NMW","t":17,"y":-1.52,"e":0.35},{"p":"c","s":"NMW","t":16.5,"y":-1.45,"e":0.35},{"p":"c","s":"NMW","t":16,"y":-1.18,"e":0.35},{"p":"c","s":"NMW","t":15.5,"y":-0.76,"e":0.35},{"p":"c","s":"NMW","t":15,"y":-0.35,"e":0.35},{"p":"c","s":"NMW","t":14.5,"y":0.07,"e":0.35},{"p":"c","s":"NMW","t":14,"y":0.21,"e":0.35},{"p":"c","s":"NMW","t":13.5,"y":0.48,"e":0.35},{"p":"c","s":"NMW","t":13,"y":0.9,"e":0.35},{"p":"c","s":"NMW","t":12.5,"y":0.97,"e":0.35},{"p":"c","s":"NMW","t":12,"y":1.11,"e":0.35},{"p":"c","s":"NMW","t":11.5,"y":1.18,"e":0.35},{"p":"c","s":"NMW","t":11,"y":1.31,"e":0.35},{"p":"c","s":"NMW","t":10.5,"y":1.52,"e":0.35},{"p":"c","s":"NMW","t":10,"y":1.66,"e":0.35},{"p":"c","s":"NMW","t":9.5,"y":1.8,"e":0.35},{"p":"c","s":"NMW","t":9,"y":1.9,"e":0.35},
{"p":"c","s":"GLOB","t":19,"y":-1.31,"e":0.35},{"p":"c","s":"GLOB","t":18,"y":-1.18,"e":0.35},{"p":"c","s":"GLOB","t":17,"y":-0.97,"e":0.35},{"p":"c","s":"GLOB","t":16,"y":-0.62,"e":0.35},{"p":"c","s":"GLOB","t":15.3,"y":-0.28,"e":0.35},{"p":"c","s":"GLOB","t":15,"y":-0.07,"e":0.35},{"p":"c","s":"GLOB","t":14.8,"y":-0.62,"e":0.35},{"p":"c","s":"GLOB","t":14.6,"y":-2.14,"e":0.35},{"p":"c","s":"GLOB","t":14.45,"y":-2.7,"e":0.35},{"p":"c","s":"GLOB","t":14.3,"y":-1.73,"e":0.35},{"p":"c","s":"GLOB","t":14.1,"y":-0.48,"e":0.35},{"p":"c","s":"GLOB","t":13.9,"y":0.21,"e":0.35},{"p":"c","s":"GLOB","t":13.7,"y":0.48,"e":0.35},{"p":"c","s":"GLOB","t":13.5,"y":0.07,"e":0.35},{"p":"c","s":"GLOB","t":13.3,"y":-0.48,"e":0.35},{"p":"c","s":"GLOB","t":13.1,"y":-1.04,"e":0.35},{"p":"c","s":"GLOB","t":12.9,"y":-1.31,"e":0.35},{"p":"c","s":"GLOB","t":12.8,"y":-1.04,"e":0.35},{"p":"c","s":"GLOB","t":12.6,"y":0.07,"e":0.35},{"p":"c","s":"GLOB","t":12.3,"y":1.18,"e":0.35},{"p":"c","s":"GLOB","t":12,"y":1.24,"e":0.35},{"p":"c","s":"GLOB","t":11.5,"y":1.24,"e":0.35},{"p":"c","s":"GLOB","t":11,"y":1.38,"e":0.35},{"p":"c","s":"GLOB","t":10.5,"y":1.52,"e":0.35},{"p":"c","s":"GLOB","t":10,"y":1.45,"e":0.35},{"p":"c","s":"GLOB","t":9.5,"y":1.66,"e":0.35},{"p":"c","s":"GLOB","t":9,"y":1.87,"e":0.35},
{"p":"c","s":"PTK","t":19,"y":-1.18,"e":0.35},{"p":"c","s":"PTK","t":18.5,"y":-1.18,"e":0.35},{"p":"c","s":"PTK","t":18,"y":-1.04,"e":0.35},{"p":"c","s":"PTK","t":17.5,"y":-0.76,"e":0.35},{"p":"c","s":"PTK","t":17,"y":-0.48,"e":0.35},{"p":"c","s":"PTK","t":16.5,"y":-0.35,"e":0.35},{"p":"c","s":"PTK","t":16,"y":-0.21,"e":0.35},{"p":"c","s":"PTK","t":15.5,"y":-0.35,"e":0.35},{"p":"c","s":"PTK","t":15.2,"y":-0.48,"e":0.35},{"p":"c","s":"PTK","t":15,"y":-0.14,"e":0.35},{"p":"c","s":"PTK","t":14.8,"y":-0.9,"e":0.35},{"p":"c","s":"PTK","t":14.6,"y":-2.97,"e":0.35},{"p":"c","s":"PTK","t":14.5,"y":-3.94,"e":0.35},{"p":"c","s":"PTK","t":14.3,"y":-3.6,"e":0.35},{"p":"c","s":"PTK","t":14.1,"y":-1.59,"e":0.35},{"p":"c","s":"PTK","t":13.9,"y":0.07,"e":0.35},{"p":"c","s":"PTK","t":13.7,"y":0.21,"e":0.35},{"p":"c","s":"PTK","t":13.5,"y":0.35,"e":0.35},{"p":"c","s":"PTK","t":13.3,"y":0.76,"e":0.35},{"p":"c","s":"PTK","t":13.1,"y":1.24,"e":0.35},{"p":"c","s":"PTK","t":12.9,"y":1.59,"e":0.35},{"p":"c","s":"PTK","t":12.7,"y":1.7,"e":0.35},{"p":"c","s":"PTK","t":12.5,"y":1.59,"e":0.35},{"p":"c","s":"PTK","t":12.2,"y":1.45,"e":0.35},{"p":"c","s":"PTK","t":12,"y":1.38,"e":0.35},{"p":"c","s":"PTK","t":11.8,"y":0.62,"e":0.35},{"p":"c","s":"PTK","t":11.6,"y":0.07,"e":0.35},{"p":"c","s":"PTK","t":11.4,"y":-0.55,"e":0.35},{"p":"c","s":"PTK","t":11.3,"y":-0.21,"e":0.35},{"p":"c","s":"PTK","t":11.1,"y":0.9,"e":0.35},{"p":"c","s":"PTK","t":10.9,"y":1.24,"e":0.35},{"p":"c","s":"PTK","t":10.5,"y":1.18,"e":0.35},{"p":"c","s":"PTK","t":10.2,"y":1.24,"e":0.35},{"p":"c","s":"PTK","t":10,"y":1.18,"e":0.35},{"p":"c","s":"PTK","t":9.7,"y":1.45,"e":0.35},{"p":"c","s":"PTK","t":9.5,"y":1.66,"e":0.35},{"p":"c","s":"PTK","t":9.2,"y":2.0,"e":0.35},{"p":"c","s":"PTK","t":9.1,"y":2.14,"e":0.35},
{"p":"c","s":"TALL","t":19,"y":0.62,"e":0.45},{"p":"c","s":"TALL","t":18.8,"y":0.35,"e":0.45},{"p":"c","s":"TALL","t":18.5,"y":0.28,"e":0.45},{"p":"c","s":"TALL","t":18.2,"y":0.07,"e":0.45},{"p":"c","s":"TALL","t":18,"y":-0.48,"e":0.45},{"p":"c","s":"TALL","t":17.8,"y":-1.31,"e":0.45},{"p":"c","s":"TALL","t":17.5,"y":-2.0,"e":0.45},{"p":"c","s":"TALL","t":17.2,"y":-2.28,"e":0.45},{"p":"c","s":"TALL","t":17,"y":-2.31,"e":0.45},{"p":"c","s":"TALL","t":16.5,"y":-2.25,"e":0.45},{"p":"c","s":"TALL","t":16,"y":-2.0,"e":0.45},{"p":"c","s":"TALL","t":15.5,"y":-1.73,"e":0.45},{"p":"c","s":"TALL","t":15.2,"y":-1.45,"e":0.45},{"p":"c","s":"TALL","t":15,"y":-1.11,"e":0.45},{"p":"c","s":"TALL","t":14.8,"y":-0.21,"e":0.45},{"p":"c","s":"TALL","t":14.6,"y":1.73,"e":0.45},{"p":"c","s":"TALL","t":14.4,"y":2.56,"e":0.5},{"p":"c","s":"TALL","t":14.3,"y":2.14,"e":0.5},{"p":"c","s":"TALL","t":14.1,"y":1.04,"e":0.45},{"p":"c","s":"TALL","t":13.9,"y":0.62,"e":0.45},{"p":"c","s":"TALL","t":13.7,"y":0.83,"e":0.45},{"p":"c","s":"TALL","t":13.5,"y":1.04,"e":0.45},{"p":"c","s":"TALL","t":13.2,"y":1.18,"e":0.45},{"p":"c","s":"TALL","t":13,"y":1.24,"e":0.45},{"p":"c","s":"TALL","t":12.8,"y":0.9,"e":0.45},{"p":"c","s":"TALL","t":12.5,"y":0.35,"e":0.45},{"p":"c","s":"TALL","t":12.2,"y":-0.28,"e":0.45},{"p":"c","s":"TALL","t":12,"y":-0.41,"e":0.45},{"p":"c","s":"TALL","t":11.8,"y":0.07,"e":0.45},{"p":"c","s":"TALL","t":11.6,"y":0.48,"e":0.45},{"p":"c","s":"TALL","t":11.4,"y":0.76,"e":0.45},{"p":"c","s":"TALL","t":11,"y":1.04,"e":0.45},{"p":"c","s":"TALL","t":10.5,"y":1.18,"e":0.45},{"p":"c","s":"TALL","t":10,"y":1.38,"e":0.45},{"p":"c","s":"TALL","t":9.5,"y":1.52,"e":0.45},{"p":"c","s":"TALL","t":9,"y":1.45,"e":0.45},
{"p":"c","s":"TGHG","t":19,"y":-0.83,"e":0.2},{"p":"c","s":"TGHG","t":18.5,"y":-0.97,"e":0.2},{"p":"c","s":"TGHG","t":18,"y":-1.04,"e":0.2},{"p":"c","s":"TGHG","t":17.5,"y":-1.18,"e":0.2},{"p":"c","s":"TGHG","t":17,"y":-1.31,"e":0.2},{"p":"c","s":"TGHG","t":16.5,"y":-1.18,"e":0.2},{"p":"c","s":"TGHG","t":16,"y":-0.83,"e":0.2},{"p":"c","s":"TGHG","t":15.5,"y":-0.48,"e":0.2},{"p":"c","s":"TGHG","t":15,"y":0.07,"e":0.2},{"p":"c","s":"TGHG","t":14.5,"y":0.48,"e":0.2},{"p":"c","s":"TGHG","t":14,"y":0.76,"e":0.2},{"p":"c","s":"TGHG","t":13.5,"y":1.04,"e":0.2},{"p":"c","s":"TGHG","t":13,"y":1.18,"e":0.2},{"p":"c","s":"TGHG","t":12.5,"y":0.97,"e":0.2},{"p":"c","s":"TGHG","t":12,"y":0.9,"e":0.2},{"p":"c","s":"TGHG","t":11.5,"y":0.9,"e":0.2},{"p":"c","s":"TGHG","t":11,"y":1.04,"e":0.2},{"p":"c","s":"TGHG","t":10.5,"y":0.97,"e":0.2},{"p":"c","s":"TGHG","t":10,"y":0.9,"e":0.2},{"p":"c","s":"TGHG","t":9.5,"y":1.04,"e":0.2},{"p":"c","s":"TGHG","t":9,"y":1.04,"e":0.2},
{"p":"c","s":"TORB","t":19,"y":-0.48},{"p":"c","s":"TORB","t":18,"y":-0.51},{"p":"c","s":"TORB","t":17,"y":-0.51},{"p":"c","s":"TORB","t":16,"y":-0.48},{"p":"c","s":"TORB","t":15,"y":-0.41},{"p":"c","s":"TORB","t":14.5,"y":-0.28},{"p":"c","s":"TORB","t":14,"y":-0.07},{"p":"c","s":"TORB","t":13.5,"y":0.14},{"p":"c","s":"TORB","t":13,"y":0.28},{"p":"c","s":"TORB","t":12.5,"y":0.32},{"p":"c","s":"TORB","t":12,"y":0.41},{"p":"c","s":"TORB","t":11.5,"y":0.55},{"p":"c","s":"TORB","t":11,"y":0.62},{"p":"c","s":"TORB","t":10.5,"y":0.69},{"p":"c","s":"TORB","t":10,"y":0.76},{"p":"c","s":"TORB","t":9.5,"y":0.79},{"p":"c","s":"TORB","t":9,"y":0.83},
{"p":"c","s":"FAM","t":19,"y":-1.31,"e":0.3},{"p":"c","s":"FAM","t":18.5,"y":-1.38,"e":0.3},{"p":"c","s":"FAM","t":18,"y":-1.24,"e":0.3},{"p":"c","s":"FAM","t":17.5,"y":-0.97,"e":0.3},{"p":"c","s":"FAM","t":17,"y":-0.9,"e":0.3},{"p":"c","s":"FAM","t":16.5,"y":-0.76,"e":0.3},{"p":"c","s":"FAM","t":16,"y":-0.48,"e":0.3},{"p":"c","s":"FAM","t":15.5,"y":-0.21,"e":0.3},{"p":"c","s":"FAM","t":15,"y":0.21,"e":0.3},{"p":"c","s":"FAM","t":14.5,"y":0.62,"e":0.3},{"p":"c","s":"FAM","t":14,"y":0.9,"e":0.3},{"p":"c","s":"FAM","t":13.5,"y":1.04,"e":0.3},{"p":"c","s":"FAM","t":13,"y":1.04,"e":0.3},{"p":"c","s":"FAM","t":12.5,"y":0.9,"e":0.3},{"p":"c","s":"FAM","t":12,"y":0.62,"e":0.3},{"p":"c","s":"FAM","t":11.5,"y":0.55,"e":0.3},{"p":"c","s":"FAM","t":11,"y":0.65,"e":0.3},{"p":"c","s":"FAM","t":10.5,"y":0.69,"e":0.3},{"p":"c","s":"FAM","t":10,"y":0.76,"e":0.3},{"p":"c","s":"FAM","t":9.5,"y":0.73,"e":0.3},{"p":"c","s":"FAM","t":9,"y":0.83,"e":0.3},

{"p":"d","s":"REC","t":19,"y":-0.47,"e":0.3},{"p":"d","s":"REC","t":18.7,"y":-0.47,"e":0.3},{"p":"d","s":"REC","t":18.5,"y":-0.33,"e":0.3},{"p":"d","s":"REC","t":18.2,"y":-0.11,"e":0.3},{"p":"d","s":"REC","t":18,"y":-0.04,"e":0.3},{"p":"d","s":"REC","t":17.8,"y":-0.16,"e":0.3},{"p":"d","s":"REC","t":17.5,"y":-0.39,"e":0.3},{"p":"d","s":"REC","t":17.2,"y":-0.5,"e":0.3},{"p":"d","s":"REC","t":17,"y":-0.49,"e":0.3},{"p":"d","s":"REC","t":16.7,"y":-0.61,"e":0.3},{"p":"d","s":"REC","t":16.4,"y":-0.78,"e":0.3},{"p":"d","s":"REC","t":16.1,"y":-0.83,"e":0.3},{"p":"d","s":"REC","t":15.8,"y":-0.81,"e":0.3},{"p":"d","s":"REC","t":15.6,"y":-0.83,"e":0.3},{"p":"d","s":"REC","t":15.4,"y":-0.92,"e":0.35},{"p":"d","s":"REC","t":15.2,"y":-0.39,"e":0.35},{"p":"d","s":"REC","t":15,"y":0.62,"e":0.4},{"p":"d","s":"REC","t":14.8,"y":1.12,"e":0.4},{"p":"d","s":"REC","t":14.6,"y":1.34,"e":0.4},{"p":"d","s":"REC","t":14.4,"y":1.24,"e":0.4},{"p":"d","s":"REC","t":14.2,"y":1.07,"e":0.35},{"p":"d","s":"REC","t":14,"y":0.96,"e":0.3},{"p":"d","s":"REC","t":13.8,"y":0.93,"e":0.3},{"p":"d","s":"REC","t":13.6,"y":0.9,"e":0.3},{"p":"d","s":"REC","t":13.4,"y":0.68,"e":0.3},{"p":"d","s":"REC","t":13.2,"y":0.29,"e":0.3},{"p":"d","s":"REC","t":13.05,"y":0.26,"e":0.3},{"p":"d","s":"REC","t":12.9,"y":0.51,"e":0.3},{"p":"d","s":"REC","t":12.7,"y":0.68,"e":0.3},{"p":"d","s":"REC","t":12.5,"y":0.62,"e":0.3},{"p":"d","s":"REC","t":12.3,"y":0.4,"e":0.3},{"p":"d","s":"REC","t":12,"y":0.17,"e":0.3},{"p":"d","s":"REC","t":11.8,"y":0.15,"e":0.3},{"p":"d","s":"REC","t":11.6,"y":0.17,"e":0.3},{"p":"d","s":"REC","t":11.4,"y":0.06,"e":0.3},{"p":"d","s":"REC","t":11.2,"y":-0.11,"e":0.3},{"p":"d","s":"REC","t":11,"y":-0.19,"e":0.3},{"p":"d","s":"REC","t":10.8,"y":-0.25,"e":0.3},{"p":"d","s":"REC","t":10.5,"y":-0.47,"e":0.3},{"p":"d","s":"REC","t":10.2,"y":-0.61,"e":0.3},{"p":"d","s":"REC","t":10,"y":-0.55,"e":0.3},{"p":"d","s":"REC","t":9.8,"y":-0.44,"e":0.3},{"p":"d","s":"REC","t":9.5,"y":-0.47,"e":0.3},{"p":"d","s":"REC","t":9.2,"y":-0.61,"e":0.3},{"p":"d","s":"REC","t":9,"y":-0.72,"e":0.3},
{"p":"d","s":"G3","t":19,"y":-0.53,"e":0.2},{"p":"d","s":"G3","t":18.7,"y":-0.55,"e":0.2},{"p":"d","s":"G3","t":18.5,"y":-0.72,"e":0.2},{"p":"d","s":"G3","t":18.2,"y":-0.81,"e":0.2},{"p":"d","s":"G3","t":18,"y":-0.75,"e":0.2},{"p":"d","s":"G3","t":17.5,"y":-0.69,"e":0.2},{"p":"d","s":"G3","t":17,"y":-0.61,"e":0.2},{"p":"d","s":"G3","t":16.5,"y":-0.39,"e":0.2},{"p":"d","s":"G3","t":16,"y":-0.11,"e":0.2},{"p":"d","s":"G3","t":15.8,"y":-0.08,"e":0.2},{"p":"d","s":"G3","t":15.5,"y":-0.33,"e":0.2},{"p":"d","s":"G3","t":15.2,"y":-0.39,"e":0.2},{"p":"d","s":"G3","t":15,"y":-0.08,"e":0.2},{"p":"d","s":"G3","t":14.8,"y":-0.5,"e":0.2},{"p":"d","s":"G3","t":14.6,"y":-0.89,"e":0.2},{"p":"d","s":"G3","t":14.4,"y":-0.92,"e":0.2},{"p":"d","s":"G3","t":14.2,"y":-0.67,"e":0.2},{"p":"d","s":"G3","t":14,"y":-0.16,"e":0.2},{"p":"d","s":"G3","t":13.8,"y":0.12,"e":0.2},{"p":"d","s":"G3","t":13.6,"y":-0.05,"e":0.2},{"p":"d","s":"G3","t":13.4,"y":-0.25,"e":0.2},{"p":"d","s":"G3","t":13.2,"y":-0.05,"e":0.2},{"p":"d","s":"G3","t":13,"y":0.37,"e":0.2},{"p":"d","s":"G3","t":12.8,"y":0.57,"e":0.2},{"p":"d","s":"G3","t":12.5,"y":0.68,"e":0.2},{"p":"d","s":"G3","t":12.2,"y":0.68,"e":0.2},{"p":"d","s":"G3","t":12,"y":0.57,"e":0.2},{"p":"d","s":"G3","t":11.8,"y":0.34,"e":0.2},{"p":"d","s":"G3","t":11.6,"y":0.17,"e":0.2},{"p":"d","s":"G3","t":11.4,"y":0.34,"e":0.2},{"p":"d","s":"G3","t":11.2,"y":0.73,"e":0.25},{"p":"d","s":"G3","t":11,"y":0.68,"e":0.25},{"p":"d","s":"G3","t":10.7,"y":0.76,"e":0.25},{"p":"d","s":"G3","t":10.5,"y":0.68,"e":0.25},{"p":"d","s":"G3","t":10.2,"y":0.57,"e":0.25},{"p":"d","s":"G3","t":10,"y":0.84,"e":0.3},{"p":"d","s":"G3","t":9.5,"y":0.84,"e":0.3},{"p":"d","s":"G3","t":9,"y":0.97,"e":0.35},
{"p":"d","s":"I3","t":19,"y":-0.04,"e":0.15},{"p":"d","s":"I3","t":18.5,"y":0.03,"e":0.15},{"p":"d","s":"I3","t":18,"y":0.15,"e":0.15},{"p":"d","s":"I3","t":17.5,"y":0.2,"e":0.15},{"p":"d","s":"I3","t":17,"y":0.26,"e":0.15},{"p":"d","s":"I3","t":16.5,"y":0.37,"e":0.15},{"p":"d","s":"I3","t":16,"y":0.51,"e":0.15},{"p":"d","s":"I3","t":15.5,"y":0.43,"e":0.15},{"p":"d","s":"I3","t":15.2,"y":0.4,"e":0.15},{"p":"d","s":"I3","t":15,"y":0.68,"e":0.15},{"p":"d","s":"I3","t":14.8,"y":0.68,"e":0.15},{"p":"d","s":"I3","t":14.6,"y":0.45,"e":0.15},{"p":"d","s":"I3","t":14.4,"y":-0.16,"e":0.15},{"p":"d","s":"I3","t":14.2,"y":-0.72,"e":0.15},{"p":"d","s":"I3","t":14,"y":-1.03,"e":0.15},{"p":"d","s":"I3","t":13.8,"y":-0.95,"e":0.15},{"p":"d","s":"I3","t":13.6,"y":-0.5,"e":0.15},{"p":"d","s":"I3","t":13.4,"y":-0.16,"e":0.15},{"p":"d","s":"I3","t":13.2,"y":-0.39,"e":0.15},{"p":"d","s":"I3","t":13,"y":-0.44,"e":0.15},{"p":"d","s":"I3","t":12.8,"y":-0.61,"e":0.15},{"p":"d","s":"I3","t":12.6,"y":-0.55,"e":0.15},{"p":"d","s":"I3","t":12.4,"y":-0.16,"e":0.15},{"p":"d","s":"I3","t":12.2,"y":-0.16,"e":0.15},{"p":"d","s":"I3","t":12,"y":-0.33,"e":0.15},{"p":"d","s":"I3","t":11.8,"y":-0.13,"e":0.15},{"p":"d","s":"I3","t":11.6,"y":-0.16,"e":0.15},{"p":"d","s":"I3","t":11.4,"y":-0.39,"e":0.15},{"p":"d","s":"I3","t":11.2,"y":-0.08,"e":0.15},{"p":"d","s":"I3","t":11,"y":-0.25,"e":0.15},{"p":"d","s":"I3","t":10.8,"y":-0.33,"e":0.15},{"p":"d","s":"I3","t":10.5,"y":-0.22,"e":0.15},{"p":"d","s":"I3","t":10.2,"y":0.06,"e":0.15},{"p":"d","s":"I3","t":10,"y":0.2,"e":0.15},{"p":"d","s":"I3","t":9.5,"y":0.31,"e":0.15},{"p":"d","s":"I3","t":9,"y":0.34,"e":0.15},
{"p":"d","s":"I2","t":19,"y":-0.16,"e":0.15},{"p":"d","s":"I2","t":18,"y":0.01,"e":0.15},{"p":"d","s":"I2","t":17,"y":0.17,"e":0.15},{"p":"d","s":"I2","t":16,"y":0.37,"e":0.15},{"p":"d","s":"I2","t":15.5,"y":0.51,"e":0.15},{"p":"d","s":"I2","t":15,"y":0.62,"e":0.15},{"p":"d","s":"I2","t":14.6,"y":0.51,"e":0.15},{"p":"d","s":"I2","t":14.3,"y":-0.16,"e":0.15},{"p":"d","s":"I2","t":14.1,"y":-0.83,"e":0.15},{"p":"d","s":"I2","t":13.8,"y":-0.89,"e":0.15},{"p":"d","s":"I2","t":13.5,"y":-0.39,"e":0.15},{"p":"d","s":"I2","t":13.2,"y":-0.27,"e":0.15},{"p":"d","s":"I2","t":13,"y":-0.39,"e":0.15},{"p":"d","s":"I2","t":12.7,"y":-0.61,"e":0.15},{"p":"d","s":"I2","t":12.4,"y":-0.27,"e":0.15},{"p":"d","s":"I2","t":12,"y":-0.16,"e":0.15},{"p":"d","s":"I2","t":11.5,"y":-0.05,"e":0.15},{"p":"d","s":"I2","t":11,"y":-0.16,"e":0.15},{"p":"d","s":"I2","t":10.5,"y":-0.05,"e":0.15},{"p":"d","s":"I2","t":10,"y":0.34,"e":0.15},{"p":"d","s":"I2","t":9.5,"y":0.45,"e":0.15},{"p":"d","s":"I2","t":9,"y":0.48,"e":0.15},
{"p":"d","s":"NMW","t":19,"y":-0.3,"e":0.15},{"p":"d","s":"NMW","t":18.5,"y":-0.3,"e":0.15},{"p":"d","s":"NMW","t":18,"y":-0.25,"e":0.15},{"p":"d","s":"NMW","t":17.5,"y":-0.16,"e":0.15},{"p":"d","s":"NMW","t":17,"y":-0.05,"e":0.15},{"p":"d","s":"NMW","t":16.5,"y":0.09,"e":0.15},{"p":"d","s":"NMW","t":16,"y":0.23,"e":0.15},{"p":"d","s":"NMW","t":15.5,"y":0.34,"e":0.15},{"p":"d","s":"NMW","t":15.2,"y":0.45,"e":0.15},{"p":"d","s":"NMW","t":15,"y":0.57,"e":0.15},{"p":"d","s":"NMW","t":14.7,"y":0.71,"e":0.15},{"p":"d","s":"NMW","t":14.5,"y":0.73,"e":0.15},{"p":"d","s":"NMW","t":14.3,"y":0.51,"e":0.15},{"p":"d","s":"NMW","t":14.1,"y":0.01,"e":0.15},{"p":"d","s":"NMW","t":14,"y":-0.22,"e":0.15},{"p":"d","s":"NMW","t":13.8,"y":-0.25,"e":0.15},{"p":"d","s":"NMW","t":13.5,"y":-0.22,"e":0.15},{"p":"d","s":"NMW","t":13,"y":-0.25,"e":0.15},{"p":"d","s":"NMW","t":12.5,"y":-0.27,"e":0.15},{"p":"d","s":"NMW","t":12,"y":-0.25,"e":0.15},{"p":"d","s":"NMW","t":11.5,"y":-0.16,"e":0.15},{"p":"d","s":"NMW","t":11,"y":-0.13,"e":0.15},{"p":"d","s":"NMW","t":10.5,"y":-0.05,"e":0.15},{"p":"d","s":"NMW","t":10,"y":0.23,"e":0.15},{"p":"d","s":"NMW","t":9.5,"y":0.45,"e":0.15},{"p":"d","s":"NMW","t":9,"y":0.51,"e":0.15},
{"p":"d","s":"GLOB","t":19,"y":-0.11,"e":0.15},{"p":"d","s":"GLOB","t":18,"y":0.01,"e":0.15},{"p":"d","s":"GLOB","t":17,"y":0.17,"e":0.15},{"p":"d","s":"GLOB","t":16.5,"y":0.31,"e":0.15},{"p":"d","s":"GLOB","t":16,"y":0.43,"e":0.15},{"p":"d","s":"GLOB","t":15.5,"y":0.51,"e":0.15},{"p":"d","s":"GLOB","t":15.2,"y":0.51,"e":0.15},{"p":"d","s":"GLOB","t":15,"y":0.57,"e":0.15},{"p":"d","s":"GLOB","t":14.7,"y":0.62,"e":0.15},{"p":"d","s":"GLOB","t":14.5,"y":0.51,"e":0.15},{"p":"d","s":"GLOB","t":14.3,"y":0.06,"e":0.15},{"p":"d","s":"GLOB","t":14.1,"y":-0.67,"e":0.15},{"p":"d","s":"GLOB","t":13.9,"y":-0.5,"e":0.15},{"p":"d","s":"GLOB","t":13.6,"y":-0.27,"e":0.15},{"p":"d","s":"GLOB","t":13.3,"y":-0.27,"e":0.15},{"p":"d","s":"GLOB","t":13,"y":-0.39,"e":0.15},{"p":"d","s":"GLOB","t":12.7,"y":-0.61,"e":0.15},{"p":"d","s":"GLOB","t":12.4,"y":-0.33,"e":0.15},{"p":"d","s":"GLOB","t":12,"y":-0.16,"e":0.15},{"p":"d","s":"GLOB","t":11.5,"y":-0.05,"e":0.15},{"p":"d","s":"GLOB","t":11,"y":-0.16,"e":0.15},{"p":"d","s":"GLOB","t":10.8,"y":-0.27,"e":0.15},{"p":"d","s":"GLOB","t":10.5,"y":-0.05,"e":0.15},{"p":"d","s":"GLOB","t":10,"y":0.4,"e":0.15},{"p":"d","s":"GLOB","t":9.5,"y":0.45,"e":0.15},{"p":"d","s":"GLOB","t":9,"y":0.43,"e":0.15},
{"p":"d","s":"PTK","t":19,"y":-0.22,"e":0.15},{"p":"d","s":"PTK","t":18.7,"y":-0.33,"e":0.15},{"p":"d","s":"PTK","t":18.3,"y":-0.33,"e":0.15},{"p":"d","s":"PTK","t":18,"y":-0.3,"e":0.15},{"p":"d","s":"PTK","t":17.5,"y":-0.25,"e":0.15},{"p":"d","s":"PTK","t":17,"y":-0.19,"e":0.15},{"p":"d","s":"PTK","t":16.7,"y":-0.27,"e":0.15},{"p":"d","s":"PTK","t":16.5,"y":-0.39,"e":0.15},{"p":"d","s":"PTK","t":16.2,"y":-0.25,"e":0.15},{"p":"d","s":"PTK","t":16,"y":-0.16,"e":0.15},{"p":"d","s":"PTK","t":15.7,"y":-0.1,"e":0.15},{"p":"d","s":"PTK","t":15.5,"y":-0.22,"e":0.15},{"p":"d","s":"PTK","t":15.2,"y":-0.39,"e":0.15},{"p":"d","s":"PTK","t":15,"y":0.06,"e":0.15},{"p":"d","s":"PTK","t":14.8,"y":-0.08,"e":0.15},{"p":"d","s":"PTK","t":14.6,"y":-0.67,"e":0.15},{"p":"d","s":"PTK","t":14.4,"y":-1.17,"e":0.15},{"p":"d","s":"PTK","t":14.3,"y":-1.2,"e":0.15},{"p":"d","s":"PTK","t":14.1,"y":-0.89,"e":0.15},{"p":"d","s":"PTK","t":13.9,"y":-0.16,"e":0.15},{"p":"d","s":"PTK","t":13.7,"y":0.06,"e":0.15},{"p":"d","s":"PTK","t":13.5,"y":-0.16,"e":0.15},{"p":"d","s":"PTK","t":13.3,"y":-0.08,"e":0.15},{"p":"d","s":"PTK","t":13.1,"y":0.17,"e":0.15},{"p":"d","s":"PTK","t":12.9,"y":0.23,"e":0.15},{"p":"d","s":"PTK","t":12.5,"y":0.29,"e":0.15},{"p":"d","s":"PTK","t":12.2,"y":0.34,"e":0.15},{"p":"d","s":"PTK","t":12,"y":0.34,"e":0.15},{"p":"d","s":"PTK","t":11.8,"y":0.23,"e":0.15},{"p":"d","s":"PTK","t":11.6,"y":-0.05,"e":0.15},{"p":"d","s":"PTK","t":11.5,"y":-0.08,"e":0.15},{"p":"d","s":"PTK","t":11.3,"y":0.51,"e":0.15},{"p":"d","s":"PTK","t":11,"y":0.54,"e":0.15},{"p":"d","s":"PTK","t":10.8,"y":0.51,"e":0.15},{"p":"d","s":"PTK","t":10.5,"y":0.23,"e":0.15},{"p":"d","s":"PTK","t":10.2,"y":0.17,"e":0.15},{"p":"d","s":"PTK","t":10,"y":0.34,"e":0.15},{"p":"d","s":"PTK","t":9.5,"y":0.37,"e":0.15},{"p":"d","s":"PTK","t":9,"y":0.26,"e":0.15},
{"p":"d","s":"TALL","t":19,"y":0.41,"e":0.45},{"p":"d","s":"TALL","t":18.7,"y":0.23,"e":0.4},{"p":"d","s":"TALL","t":18.5,"y":0.2,"e":0.35},{"p":"d","s":"TALL","t":18,"y":0.17,"e":0.3},{"p":"d","s":"TALL","t":17.5,"y":0.09,"e":0.3},{"p":"d","s":"TALL","t":17.2,"y":-0.05,"e":0.3},{"p":"d","s":"TALL","t":16.9,"y":-0.27,"e":0.3},{"p":"d","s":"TALL","t":16.6,"y":-0.39,"e":0.3},{"p":"d","s":"TALL","t":16.3,"y":-0.3,"e":0.3},{"p":"d","s":"TALL","t":16,"y":-0.08,"e":0.3},{"p":"d","s":"TALL","t":15.7,"y":0.12,"e":0.3},{"p":"d","s":"TALL","t":15.4,"y":0.31,"e":0.3},{"p":"d","s":"TALL","t":15.1,"y":0.45,"e":0.3},{"p":"d","s":"TALL","t":14.9,"y":0.34,"e":0.3},{"p":"d","s":"TALL","t":14.7,"y":0.62,"e":0.3},{"p":"d","s":"TALL","t":14.5,"y":1.01,"e":0.3},{"p":"d","s":"TALL","t":14.35,"y":1.35,"e":0.3},{"p":"d","s":"TALL","t":14.2,"y":1.18,"e":0.3},{"p":"d","s":"TALL","t":14.05,"y":0.45,"e":0.3},{"p":"d","s":"TALL","t":13.9,"y":-0.05,"e":0.3},{"p":"d","s":"TALL","t":13.7,"y":-0.22,"e":0.3},{"p":"d","s":"TALL","t":13.5,"y":-0.27,"e":0.3},{"p":"d","s":"TALL","t":13.2,"y":-0.25,"e":0.3},{"p":"d","s":"TALL","t":13,"y":-0.22,"e":0.3},{"p":"d","s":"TALL","t":12.7,"y":-0.36,"e":0.3},{"p":"d","s":"TALL","t":12.4,"y":-0.44,"e":0.3},{"p":"d","s":"TALL","t":12,"y":-0.45,"e":0.3},{"p":"d","s":"TALL","t":11.7,"y":-0.39,"e":0.3},{"p":"d","s":"TALL","t":11.4,"y":-0.27,"e":0.3},{"p":"d","s":"TALL","t":11,"y":-0.19,"e":0.3},{"p":"d","s":"TALL","t":10.7,"y":-0.11,"e":0.3},{"p":"d","s":"TALL","t":10.3,"y":-0.08,"e":0.3},{"p":"d","s":"TALL","t":10,"y":-0.08,"e":0.3},{"p":"d","s":"TALL","t":9.5,"y":-0.11,"e":0.3},{"p":"d","s":"TALL","t":9,"y":-0.13,"e":0.3},
{"p":"d","s":"TGHG","t":19,"y":-1.0,"e":0.5},{"p":"d","s":"TGHG","t":18.5,"y":-1.06,"e":0.45},{"p":"d","s":"TGHG","t":18.2,"y":-1.17,"e":0.4},{"p":"d","s":"TGHG","t":18,"y":-1.16,"e":0.4},{"p":"d","s":"TGHG","t":17.5,"y":-1.09,"e":0.4},{"p":"d","s":"TGHG","t":17,"y":-1.03,"e":0.4},{"p":"d","s":"TGHG","t":16.5,"y":-1.0,"e":0.4},{"p":"d","s":"TGHG","t":16,"y":-0.83,"e":0.4},{"p":"d","s":"TGHG","t":15.5,"y":-0.67,"e":0.4},{"p":"d","s":"TGHG","t":15,"y":-0.39,"e":0.4},{"p":"d","s":"TGHG","t":14.5,"y":-0.16,"e":0.4},{"p":"d","s":"TGHG","t":14,"y":0.01,"e":0.4},{"p":"d","s":"TGHG","t":13.5,"y":0.17,"e":0.4},{"p":"d","s":"TGHG","t":13,"y":0.34,"e":0.4},{"p":"d","s":"TGHG","t":12.5,"y":0.45,"e":0.4},{"p":"d","s":"TGHG","t":12,"y":0.51,"e":0.4},{"p":"d","s":"TGHG","t":11.5,"y":0.79,"e":0.4},{"p":"d","s":"TGHG","t":11,"y":0.98,"e":0.4},{"p":"d","s":"TGHG","t":10.5,"y":1.07,"e":0.45},{"p":"d","s":"TGHG","t":10,"y":1.18,"e":0.45},{"p":"d","s":"TGHG","t":9.5,"y":1.24,"e":0.45},{"p":"d","s":"TGHG","t":9,"y":1.15,"e":0.45},
{"p":"d","s":"TORB","t":19,"y":-0.67,"e":0.12},{"p":"d","s":"TORB","t":18.5,"y":-0.64,"e":0.12},{"p":"d","s":"TORB","t":18,"y":-0.61,"e":0.12},{"p":"d","s":"TORB","t":17.5,"y":-0.58,"e":0.12},{"p":"d","s":"TORB","t":17,"y":-0.58,"e":0.12},{"p":"d","s":"TORB","t":16.5,"y":-0.55,"e":0.12},{"p":"d","s":"TORB","t":16,"y":-0.53,"e":0.12},{"p":"d","s":"TORB","t":15.5,"y":-0.5,"e":0.12},{"p":"d","s":"TORB","t":15,"y":-0.39,"e":0.12},{"p":"d","s":"TORB","t":14.5,"y":-0.22,"e":0.12},{"p":"d","s":"TORB","t":14,"y":-0.05,"e":0.12},{"p":"d","s":"TORB","t":13.5,"y":0.15,"e":0.12},{"p":"d","s":"TORB","t":13,"y":0.23,"e":0.12},{"p":"d","s":"TORB","t":12.5,"y":0.34,"e":0.12},{"p":"d","s":"TORB","t":12,"y":0.45,"e":0.12},{"p":"d","s":"TORB","t":11.5,"y":0.62,"e":0.12},{"p":"d","s":"TORB","t":11,"y":0.68,"e":0.12},{"p":"d","s":"TORB","t":10.5,"y":0.71,"e":0.12},{"p":"d","s":"TORB","t":10,"y":0.73,"e":0.12},{"p":"d","s":"TORB","t":9.5,"y":0.76,"e":0.12},{"p":"d","s":"TORB","t":9,"y":0.73,"e":0.12},
{"p":"d","s":"FAM","t":19,"y":-0.36,"e":0.2},{"p":"d","s":"FAM","t":18.5,"y":-0.27,"e":0.2},{"p":"d","s":"FAM","t":18,"y":-0.25,"e":0.2},{"p":"d","s":"FAM","t":17.5,"y":-0.16,"e":0.2},{"p":"d","s":"FAM","t":17,"y":-0.08,"e":0.2},{"p":"d","s":"FAM","t":16.5,"y":0.03,"e":0.2},{"p":"d","s":"FAM","t":16,"y":0.12,"e":0.2},{"p":"d","s":"FAM","t":15.5,"y":0.06,"e":0.2},{"p":"d","s":"FAM","t":15.2,"y":0.17,"e":0.2},{"p":"d","s":"FAM","t":15,"y":0.2,"e":0.2},{"p":"d","s":"FAM","t":14.7,"y":0.29,"e":0.2},{"p":"d","s":"FAM","t":14.5,"y":0.12,"e":0.2},{"p":"d","s":"FAM","t":14.2,"y":0.06,"e":0.2},{"p":"d","s":"FAM","t":14,"y":0.12,"e":0.2},{"p":"d","s":"FAM","t":13.7,"y":0.12,"e":0.2},{"p":"d","s":"FAM","t":13.5,"y":0.03,"e":0.2},{"p":"d","s":"FAM","t":13,"y":0.12,"e":0.2},{"p":"d","s":"FAM","t":12.5,"y":0.06,"e":0.2},{"p":"d","s":"FAM","t":12.2,"y":0.01,"e":0.2},{"p":"d","s":"FAM","t":12,"y":-0.02,"e":0.2},{"p":"d","s":"FAM","t":11.5,"y":-0.05,"e":0.2},{"p":"d","s":"FAM","t":11,"y":0.06,"e":0.2},{"p":"d","s":"FAM","t":10.5,"y":0.12,"e":0.2},{"p":"d","s":"FAM","t":10,"y":0.06,"e":0.2},{"p":"d","s":"FAM","t":9.5,"y":0.03,"e":0.2},{"p":"d","s":"FAM","t":9,"y":0.09,"e":0.2}
]},
"concat": [
{
 "title": "(a) Southern Hemisphere extratropics",
 "width": 504, "height": 266,
 "data": {"name": "d"},
 "transform": [{"filter": "datum.p == 'a'"}],
 "encoding": {
  "x": {"field": "t", "type": "quantitative", "scale": {"domain": [8.6, 19.4], "reverse": true, "nice": false, "zero": false}, "axis": {"values": [18, 15, 12, 9], "labelExpr": "datum.value + 'ka'", "title": null}},
  "y": {"field": "y", "type": "quantitative", "scale": {"domain": [-3.48, 3.81], "nice": false, "zero": false}, "axis": {"values": [-3, -2, -1, 0, 1, 2, 3], "title": "Temperature anomaly [K]"}}
 },
 "layer": [
  {"transform": [{"filter": "isValid(datum.e)"}], "mark": {"type": "errorband", "interpolate": "monotone", "clip": true}, "encoding": {"yError": {"field": "e"}, "fill": {"field": "s", "type": "nominal", "scale": {"domain": ["REC","G3","I3","I2","NMW","GLOB","PTK","TALL","TGHG","TORB","FAM"], "range": ["#000000","#8C2981","#1F66B3","#7EB0E0","#4DAF5A","#C3E0A6","#F3EB4B","#F7A030","#F19A73","#E9525E","#AA6F6A"]}, "legend": null}, "opacity": {"field": "s", "type": "nominal", "scale": {"domain": ["REC","G3","I3","I2","NMW","GLOB","PTK","TALL","TGHG","TORB","FAM"], "range": [0.32,0.3,0.32,0.3,0.12,0.12,0.22,0.25,0.25,0.2,0.25]}, "legend": null}}},
  {"transform": [{"filter": {"field": "s", "oneOf": ["G3","I3","I2","NMW","GLOB"]}}], "mark": {"type": "line", "strokeWidth": 1.6, "interpolate": "monotone", "clip": true}, "encoding": {"color": {"field": "s", "type": "nominal", "scale": {"domain": ["REC","G3","I3","I2","NMW","GLOB"], "range": ["#000000","#8C2981","#1F66B3","#7EB0E0","#4DAF5A","#C3E0A6"]}, "legend": {"title": null, "orient": "top-left", "offset": 0, "symbolType": "M-5,0H5", "symbolSize": 36, "symbolStrokeWidth": 5, "symbolOffset": 12.5, "labelOffset": 14, "labelExpr": "datum.label=='REC'?'Reconstructions':datum.label=='G3'?'MPI_Glac1D_P3':datum.label=='I3'?'MPI_Ice6G_P3':datum.label=='I2'?'MPI_Ice6G_P2':datum.label=='NMW'?'MPI_Ice6G_P2_noMW':'MPI_Ice6G_P2_glob'"}}}},
  {"transform": [{"filter": {"field": "s", "oneOf": ["PTK","TALL","TGHG","TORB","FAM"]}}], "mark": {"type": "line", "strokeWidth": 1.6, "interpolate": "monotone", "clip": true}, "encoding": {
    "stroke": {"field": "s", "type": "nominal", "scale": {"domain": ["PTK","TALL","TGHG","TORB","FAM"], "range": ["#F3EB4B","#F7A030","#F19A73","#E9525E","#AA6F6A"]}, "legend": {"title": null, "orient": "bottom-right", "offset": 0, "symbolType": "M-5,0H5", "symbolSize": 36, "symbolStrokeWidth": 5, "symbolOffset": 12.5, "labelOffset": 14, "labelExpr": "datum.label=='PTK'?'MPI_Glac1D_PTK':datum.label=='TALL'?'TraCE-ALL':datum.label=='TGHG'?'TraCE-GHG':datum.label=='TORB'?'TraCE-ORB':'Famous'"}},
    "strokeDash": {"field": "s", "type": "nominal", "scale": {"domain": ["PTK","TALL","TGHG","TORB","FAM"], "range": [[1,0],[1,0],[6,5],[6,5],[6,5]]}, "legend": {"title": null, "orient": "bottom-right", "offset": 0, "symbolType": "M-5,0H5", "symbolSize": 36, "symbolStrokeWidth": 5, "symbolOffset": 12.5, "labelOffset": 14, "labelExpr": "datum.label=='PTK'?'MPI_Glac1D_PTK':datum.label=='TALL'?'TraCE-ALL':datum.label=='TGHG'?'TraCE-GHG':datum.label=='TORB'?'TraCE-ORB':'Famous'"}}}},
  {"transform": [{"filter": "datum.s == 'REC'"}], "mark": {"type": "line", "strokeWidth": 5, "interpolate": "monotone", "clip": true}, "encoding": {"color": {"field": "s", "type": "nominal", "scale": {"domain": ["REC","G3","I3","I2","NMW","GLOB"], "range": ["#000000","#8C2981","#1F66B3","#7EB0E0","#4DAF5A","#C3E0A6"]}, "legend": {"title": null, "orient": "top-left", "offset": 0, "symbolType": "M-5,0H5", "symbolSize": 36, "symbolStrokeWidth": 5, "symbolOffset": 12.5, "labelOffset": 14, "labelExpr": "datum.label=='REC'?'Reconstructions':datum.label=='G3'?'MPI_Glac1D_P3':datum.label=='I3'?'MPI_Ice6G_P3':datum.label=='I2'?'MPI_Ice6G_P2':datum.label=='NMW'?'MPI_Ice6G_P2_noMW':'MPI_Ice6G_P2_glob'"}}}}
 ]
},
{
 "title": "(b) Tropics",
 "width": 504, "height": 266,
 "data": {"name": "d"},
 "transform": [{"filter": "datum.p == 'b'"}],
 "encoding": {
  "x": {"field": "t", "type": "quantitative", "scale": {"domain": [8.6, 19.4], "reverse": true, "nice": false, "zero": false}, "axis": {"values": [18, 15, 12, 9], "labelExpr": "datum.value + 'ka'", "title": null}},
  "y": {"field": "y", "type": "quantitative", "scale": {"domain": [-2.57, 2.63], "nice": false, "zero": false}, "axis": {"values": [-2, -1, 0, 1, 2], "title": "Temperature anomaly [K]"}}
 },
 "layer": [
  {"transform": [{"filter": "isValid(datum.e)"}], "mark": {"type": "errorband", "interpolate": "monotone", "clip": true}, "encoding": {"yError": {"field": "e"}, "fill": {"field": "s", "type": "nominal", "scale": {"domain": ["REC","G3","I3","I2","NMW","GLOB","PTK","TALL","TGHG","TORB","FAM"], "range": ["#000000","#8C2981","#1F66B3","#7EB0E0","#4DAF5A","#C3E0A6","#F3EB4B","#F7A030","#F19A73","#E9525E","#AA6F6A"]}, "legend": null}, "opacity": {"field": "s", "type": "nominal", "scale": {"domain": ["REC","G3","I3","I2","NMW","GLOB","PTK","TALL","TGHG","TORB","FAM"], "range": [0.32,0.3,0.32,0.3,0.12,0.12,0.22,0.25,0.25,0.2,0.25]}, "legend": null}}},
  {"transform": [{"filter": {"field": "s", "oneOf": ["G3","I3","I2","NMW","GLOB"]}}], "mark": {"type": "line", "strokeWidth": 1.6, "interpolate": "monotone", "clip": true}, "encoding": {"color": {"field": "s", "type": "nominal", "scale": {"domain": ["REC","G3","I3","I2","NMW","GLOB"], "range": ["#000000","#8C2981","#1F66B3","#7EB0E0","#4DAF5A","#C3E0A6"]}, "legend": null}}},
  {"transform": [{"filter": {"field": "s", "oneOf": ["PTK","TALL","TGHG","TORB","FAM"]}}], "mark": {"type": "line", "strokeWidth": 1.6, "interpolate": "monotone", "clip": true}, "encoding": {
    "stroke": {"field": "s", "type": "nominal", "scale": {"domain": ["PTK","TALL","TGHG","TORB","FAM"], "range": ["#F3EB4B","#F7A030","#F19A73","#E9525E","#AA6F6A"]}, "legend": null},
    "strokeDash": {"field": "s", "type": "nominal", "scale": {"domain": ["PTK","TALL","TGHG","TORB","FAM"], "range": [[1,0],[1,0],[6,5],[6,5],[6,5]]}, "legend": null}}},
  {"transform": [{"filter": "datum.s == 'REC'"}], "mark": {"type": "line", "strokeWidth": 5, "interpolate": "monotone", "clip": true}, "encoding": {"color": {"field": "s", "type": "nominal", "scale": {"domain": ["REC","G3","I3","I2","NMW","GLOB"], "range": ["#000000","#8C2981","#1F66B3","#7EB0E0","#4DAF5A","#C3E0A6"]}, "legend": null}}}
 ]
},
{
 "title": "(c) Extratropical North Atlantic",
 "width": 504, "height": 266,
 "data": {"name": "d"},
 "transform": [{"filter": "datum.p == 'c'"}],
 "encoding": {
  "x": {"field": "t", "type": "quantitative", "scale": {"domain": [8.6, 19.4], "reverse": true, "nice": false, "zero": false}, "axis": {"values": [18, 15, 12, 9], "labelExpr": "datum.value + 'ka'", "title": null}},
  "y": {"field": "y", "type": "quantitative", "scale": {"domain": [-6.1, 4.98], "nice": false, "zero": false}, "axis": {"values": [-6, -4, -2, 0, 2, 4], "title": "Temperature anomaly [K]"}}
 },
 "layer": [
  {"transform": [{"filter": "isValid(datum.e)"}], "mark": {"type": "errorband", "interpolate": "monotone", "clip": true}, "encoding": {"yError": {"field": "e"}, "fill": {"field": "s", "type": "nominal", "scale": {"domain": ["REC","G3","I3","I2","NMW","GLOB","PTK","TALL","TGHG","TORB","FAM"], "range": ["#000000","#8C2981","#1F66B3","#7EB0E0","#4DAF5A","#C3E0A6","#F3EB4B","#F7A030","#F19A73","#E9525E","#AA6F6A"]}, "legend": null}, "opacity": {"field": "s", "type": "nominal", "scale": {"domain": ["REC","G3","I3","I2","NMW","GLOB","PTK","TALL","TGHG","TORB","FAM"], "range": [0.32,0.3,0.32,0.3,0.12,0.12,0.22,0.25,0.25,0.2,0.25]}, "legend": null}}},
  {"transform": [{"filter": {"field": "s", "oneOf": ["G3","I3","I2","NMW","GLOB"]}}], "mark": {"type": "line", "strokeWidth": 1.6, "interpolate": "monotone", "clip": true}, "encoding": {"color": {"field": "s", "type": "nominal", "scale": {"domain": ["REC","G3","I3","I2","NMW","GLOB"], "range": ["#000000","#8C2981","#1F66B3","#7EB0E0","#4DAF5A","#C3E0A6"]}, "legend": null}}},
  {"transform": [{"filter": {"field": "s", "oneOf": ["PTK","TALL","TGHG","TORB","FAM"]}}], "mark": {"type": "line", "strokeWidth": 1.6, "interpolate": "monotone", "clip": true}, "encoding": {
    "stroke": {"field": "s", "type": "nominal", "scale": {"domain": ["PTK","TALL","TGHG","TORB","FAM"], "range": ["#F3EB4B","#F7A030","#F19A73","#E9525E","#AA6F6A"]}, "legend": null},
    "strokeDash": {"field": "s", "type": "nominal", "scale": {"domain": ["PTK","TALL","TGHG","TORB","FAM"], "range": [[1,0],[1,0],[6,5],[6,5],[6,5]]}, "legend": null}}},
  {"transform": [{"filter": "datum.s == 'REC'"}], "mark": {"type": "line", "strokeWidth": 5, "interpolate": "monotone", "clip": true}, "encoding": {"color": {"field": "s", "type": "nominal", "scale": {"domain": ["REC","G3","I3","I2","NMW","GLOB"], "range": ["#000000","#8C2981","#1F66B3","#7EB0E0","#4DAF5A","#C3E0A6"]}, "legend": null}}}
 ]
},
{
 "title": "(d) Extratropical North Pacific",
 "width": 504, "height": 266,
 "data": {"name": "d"},
 "transform": [{"filter": "datum.p == 'd'"}],
 "encoding": {
  "x": {"field": "t", "type": "quantitative", "scale": {"domain": [8.6, 19.4], "reverse": true, "nice": false, "zero": false}, "axis": {"values": [18, 15, 12, 9], "labelExpr": "datum.value + 'ka'", "title": null}},
  "y": {"field": "y", "type": "quantitative", "scale": {"domain": [-2.21, 2.27], "nice": false, "zero": false}, "axis": {"values": [-2, -1, 0, 1, 2], "title": "Temperature anomaly [K]"}}
 },
 "layer": [
  {"transform": [{"filter": "isValid(datum.e)"}], "mark": {"type": "errorband", "interpolate": "monotone", "clip": true}, "encoding": {"yError": {"field": "e"}, "fill": {"field": "s", "type": "nominal", "scale": {"domain": ["REC","G3","I3","I2","NMW","GLOB","PTK","TALL","TGHG","TORB","FAM"], "range": ["#000000","#8C2981","#1F66B3","#7EB0E0","#4DAF5A","#C3E0A6","#F3EB4B","#F7A030","#F19A73","#E9525E","#AA6F6A"]}, "legend": null}, "opacity": {"field": "s", "type": "nominal", "scale": {"domain": ["REC","G3","I3","I2","NMW","GLOB","PTK","TALL","TGHG","TORB","FAM"], "range": [0.32,0.3,0.32,0.3,0.12,0.12,0.22,0.25,0.25,0.2,0.25]}, "legend": null}}},
  {"transform": [{"filter": {"field": "s", "oneOf": ["G3","I3","I2","NMW","GLOB"]}}], "mark": {"type": "line", "strokeWidth": 1.6, "interpolate": "monotone", "clip": true}, "encoding": {"color": {"field": "s", "type": "nominal", "scale": {"domain": ["REC","G3","I3","I2","NMW","GLOB"], "range": ["#000000","#8C2981","#1F66B3","#7EB0E0","#4DAF5A","#C3E0A6"]}, "legend": null}}},
  {"transform": [{"filter": {"field": "s", "oneOf": ["PTK","TALL","TGHG","TORB","FAM"]}}], "mark": {"type": "line", "strokeWidth": 1.6, "interpolate": "monotone", "clip": true}, "encoding": {
    "stroke": {"field": "s", "type": "nominal", "scale": {"domain": ["PTK","TALL","TGHG","TORB","FAM"], "range": ["#F3EB4B","#F7A030","#F19A73","#E9525E","#AA6F6A"]}, "legend": null},
    "strokeDash": {"field": "s", "type": "nominal", "scale": {"domain": ["PTK","TALL","TGHG","TORB","FAM"], "range": [[1,0],[1,0],[6,5],[6,5],[6,5]]}, "legend": null}}},
  {"transform": [{"filter": "datum.s == 'REC'"}], "mark": {"type": "line", "strokeWidth": 5, "interpolate": "monotone", "clip": true}, "encoding": {"color": {"field": "s", "type": "nominal", "scale": {"domain": ["REC","G3","I3","I2","NMW","GLOB"], "range": ["#000000","#8C2981","#1F66B3","#7EB0E0","#4DAF5A","#C3E0A6"]}, "legend": null}}}
 ]
}
]
}
